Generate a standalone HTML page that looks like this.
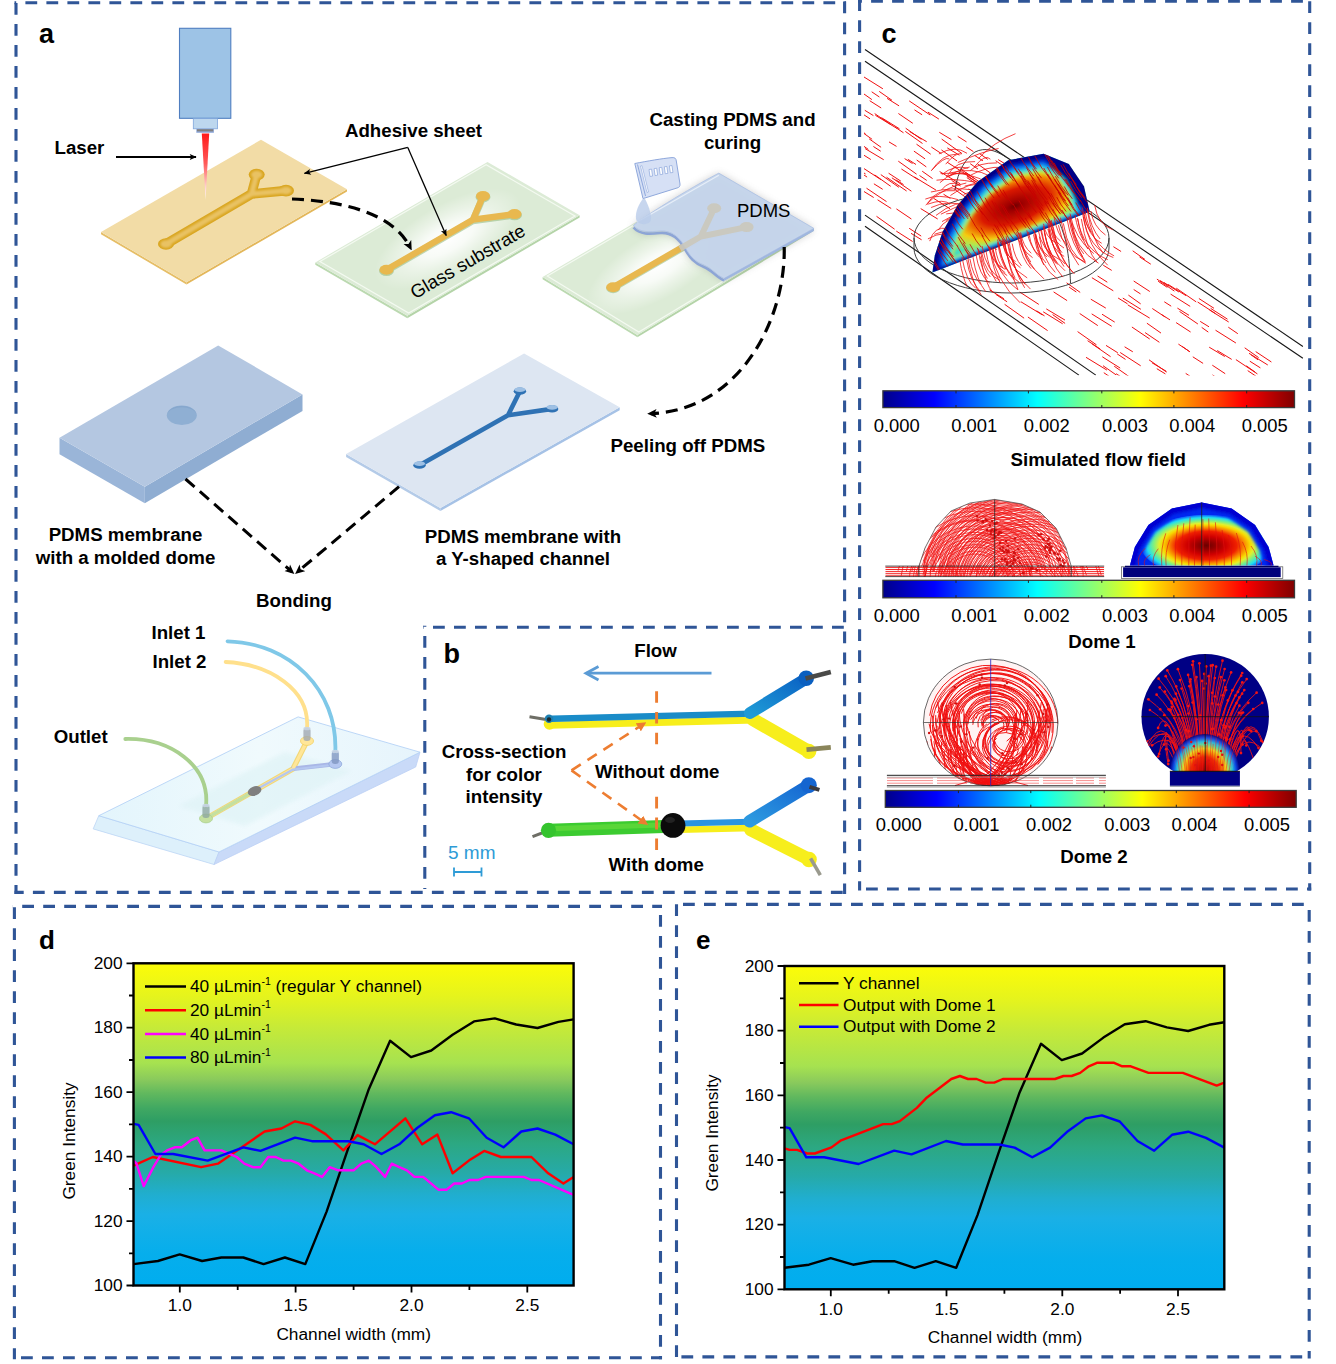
<!DOCTYPE html>
<html lang="en"><head><meta charset="utf-8"><title>Figure</title>
<style>
html,body{margin:0;padding:0;background:#fff;}
body{width:1336px;height:1364px;overflow:hidden;}
svg{display:block;font-family:"Liberation Sans",Arial,sans-serif;}
.b{font-weight:bold;}
</style></head><body>
<svg width="1336" height="1364" viewBox="0 0 1336 1364">
<rect width="1336" height="1364" fill="#fff"/>
<path d="M14.5,2.8H846" stroke="#2F5597" stroke-width="3.1" stroke-dasharray="11.8 9.2" stroke-dashoffset="10.10" fill="none"/>
<path d="M16,1.3V894" stroke="#2F5597" stroke-width="3.1" stroke-dasharray="11.8 9.2" stroke-dashoffset="19.30" fill="none"/>
<path d="M844.6,1.3V894" stroke="#2F5597" stroke-width="3.1" stroke-dasharray="11.8 9.2" stroke-dashoffset="20.80" fill="none"/>
<path d="M14.5,892.4H846" stroke="#2F5597" stroke-width="3.1" stroke-dasharray="11.8 9.2" stroke-dashoffset="2.60" fill="none"/>
<path d="M423.3,627.2H846" stroke="#2F5597" stroke-width="3.1" stroke-dasharray="11.8 9.2" stroke-dashoffset="11.30" fill="none"/>
<path d="M424.8,625.7V889" stroke="#2F5597" stroke-width="3.1" stroke-dasharray="11.8 9.2" stroke-dashoffset="10.70" fill="none"/>
<path d="M858,1.3H1311.2" stroke="#2F5597" stroke-width="3.1" stroke-dasharray="11.8 9.2" stroke-dashoffset="7.90" fill="none"/>
<path d="M859.6,0V890.5" stroke="#2F5597" stroke-width="3.1" stroke-dasharray="11.8 9.2" stroke-dashoffset="0.80" fill="none"/>
<path d="M1309.7,0V890.5" stroke="#2F5597" stroke-width="3.1" stroke-dasharray="11.8 9.2" stroke-dashoffset="19.70" fill="none"/>
<path d="M858,889H1311.2" stroke="#2F5597" stroke-width="3.1" stroke-dasharray="11.8 9.2" stroke-dashoffset="13.00" fill="none"/>
<path d="M12.9,906.4H662" stroke="#2F5597" stroke-width="3.1" stroke-dasharray="11.8 9.2" stroke-dashoffset="11.70" fill="none"/>
<path d="M14.4,905V1359.3" stroke="#2F5597" stroke-width="3.1" stroke-dasharray="11.8 9.2" stroke-dashoffset="18.70" fill="none"/>
<path d="M660.5,905V1359.3" stroke="#2F5597" stroke-width="3.1" stroke-dasharray="11.8 9.2" stroke-dashoffset="11.00" fill="none"/>
<path d="M12.9,1357.8H662" stroke="#2F5597" stroke-width="3.1" stroke-dasharray="11.8 9.2" stroke-dashoffset="12.90" fill="none"/>
<path d="M675,904.4H1310.8" stroke="#2F5597" stroke-width="3.1" stroke-dasharray="11.8 9.2" stroke-dashoffset="13.00" fill="none"/>
<path d="M676.5,903V1358.4" stroke="#2F5597" stroke-width="3.1" stroke-dasharray="11.8 9.2" stroke-dashoffset="19.80" fill="none"/>
<path d="M1309.2,903V1358.4" stroke="#2F5597" stroke-width="3.1" stroke-dasharray="11.8 9.2" stroke-dashoffset="14.00" fill="none"/>
<path d="M675,1356.9H1310.8" stroke="#2F5597" stroke-width="3.1" stroke-dasharray="11.8 9.2" stroke-dashoffset="14.60" fill="none"/>
<defs>
<marker id="ah" viewBox="0 0 10 10" refX="9" refY="5" markerUnits="userSpaceOnUse" markerWidth="7.5" markerHeight="7" orient="auto-start-reverse"><path d="M0,0.8 L10,5 L0,9.2 L2.2,5 Z" fill="#000"/></marker>
<marker id="ahb" viewBox="0 0 10 10" refX="6" refY="5" markerUnits="userSpaceOnUse" markerWidth="9.5" markerHeight="9.5" orient="auto-start-reverse"><path d="M0,0.5 L10,5 L0,9.5 L2.5,5 Z" fill="#000"/></marker>
<linearGradient id="beam" x1="0" y1="0" x2="0" y2="1"><stop offset="0" stop-color="#FF1A1A"/><stop offset="0.45" stop-color="#FF5A5A"/><stop offset="0.8" stop-color="#FFD0D0"/><stop offset="1" stop-color="#FFFFFF"/></linearGradient>
<radialGradient id="glow" cx="0.5" cy="0.5" r="0.5"><stop offset="0" stop-color="#fff" stop-opacity="1"/><stop offset="0.35" stop-color="#fff" stop-opacity="0.8"/><stop offset="0.65" stop-color="#fff" stop-opacity="0.4"/><stop offset="1" stop-color="#fff" stop-opacity="0"/></radialGradient>
<filter id="blur2"><feGaussianBlur stdDeviation="2"/></filter>
<filter id="blur4"><feGaussianBlur stdDeviation="4"/></filter>
<filter id="blur15" x="-20%" y="-20%" width="140%" height="140%"><feGaussianBlur stdDeviation="1.6"/></filter>
<filter id="blur1"><feGaussianBlur stdDeviation="0.9"/></filter>
</defs>
<text class="b" x="39" y="42.5" font-size="27">a</text>
<rect x="179.5" y="28.3" width="51.3" height="90" fill="#9DC3E6" stroke="#4F7EC0" stroke-width="1.1"/>
<rect x="193.3" y="118.6" width="24.2" height="10.2" fill="#BDD7EE" stroke="#7FA6DC" stroke-width="0.8"/>
<rect x="196.3" y="128.8" width="17.6" height="4" fill="#8FAADC"/>
<rect x="197" y="129.2" width="16.2" height="2.2" fill="#7F7F7F"/>
<polygon points="101.0,232.0 186.5,282.3 186.5,284.5 101.0,234.2" fill="#E6BE66" />
<polygon points="186.5,282.3 347.0,189.3 347.0,191.5 186.5,284.5" fill="#E3B75A" />
<polygon points="101.0,232.0 261.0,139.8 347.0,189.3 186.5,282.3" fill="#F2DCA6" />
<g ><path d="M166.0,244.0L251.5,194.0L256.7,174.6M251.5,194.0L286.0,190.6" fill="none" stroke="#D9A51E" stroke-width="9.6" stroke-linecap="round" stroke-linejoin="round"/>
<ellipse cx="166.0" cy="244.0" rx="8" ry="5.8" fill="#D9A51E"/>
<ellipse cx="256.7" cy="174.6" rx="8" ry="5.8" fill="#D9A51E"/>
<ellipse cx="286.0" cy="190.6" rx="8" ry="5.8" fill="#D9A51E"/>
</g>
<g filter="url(#blur1)"><path d="M166.0,244.0L251.5,194.0L256.7,174.6M251.5,194.0L286.0,190.6" fill="none" stroke="#E9C264" stroke-width="5.2" stroke-linecap="round" stroke-linejoin="round"/>
<ellipse cx="166.0" cy="244.0" rx="5.6" ry="3.8" fill="#E9C264"/>
<ellipse cx="256.7" cy="174.6" rx="5.6" ry="3.8" fill="#E9C264"/>
<ellipse cx="286.0" cy="190.6" rx="5.6" ry="3.8" fill="#E9C264"/>
</g>
<polygon points="201.8,133.6 209.2,133.6 205.6,200" fill="url(#beam)"/>
<text class="b" x="54.5" y="154.3" font-size="18.7">Laser</text>
<path d="M116,157H196" stroke="#000" stroke-width="1.9" marker-end="url(#ah)"/>
<text class="b" x="413.5" y="136.5" font-size="18.7" text-anchor="middle">Adhesive sheet</text>
<polygon points="315.3,262.4 407.3,315.8 407.3,318.2 315.3,264.8" fill="#BBD9B0" />
<polygon points="407.3,315.8 579.6,215.2 579.6,217.6 407.3,318.2" fill="#B4D4A8" />
<polygon points="315.3,262.4 487.5,162.0 579.6,215.2 407.3,315.8" fill="#DCEBD6" />
<polygon points="319.9,261.6 486.1,164.7 575.0,216.0 408.7,313.1" fill="none" stroke="#F4FAF1" stroke-width="1.2"/>
<ellipse cx="447.45000000000005" cy="238.9" rx="82" ry="34" fill="url(#glow)" transform="rotate(-30 447.45000000000005 238.9)"/>
<g opacity="0.55"><path d="M386.5,270.8L472.9,220.7L483.0,197.1M472.9,220.7L514.5,215.1" fill="none" stroke="#8FB878" stroke-width="7" stroke-linecap="round" stroke-linejoin="round"/>
<ellipse cx="386.5" cy="270.8" rx="7.5" ry="5.2" fill="#8FB878"/>
<ellipse cx="483.0" cy="197.1" rx="7.5" ry="5.2" fill="#8FB878"/>
<ellipse cx="514.5" cy="215.1" rx="7.5" ry="5.2" fill="#8FB878"/>
</g>
<g ><path d="M386.5,269.8L472.9,219.7L483.0,196.1M472.9,219.7L514.5,214.1" fill="none" stroke="#E8B84F" stroke-width="6.3" stroke-linecap="round" stroke-linejoin="round"/>
<ellipse cx="386.5" cy="269.8" rx="7" ry="5" fill="#E8B84F"/>
<ellipse cx="483.0" cy="196.1" rx="7" ry="5" fill="#E8B84F"/>
<ellipse cx="514.5" cy="214.1" rx="7" ry="5" fill="#E8B84F"/>
</g>
<text transform="translate(415,299.4) rotate(-30.1)" font-size="18.6">Glass substrate</text>
<path d="M407.8,147.4L304.5,173.4" stroke="#000" stroke-width="1.3" marker-end="url(#ah)"/>
<path d="M407.8,147.4L446.2,235.6" stroke="#000" stroke-width="1.3" marker-end="url(#ah)"/>
<path d="M292,199 C340,201 392,212 410,247" fill="none" stroke="#000" stroke-width="3.2" stroke-dasharray="12 7" marker-end="url(#ahb)"/>
<polygon points="542.6,276.9 637.4,334.9 637.4,337.3 542.6,279.3" fill="#BBD9B0" />
<polygon points="637.4,334.9 813.9,228.4 813.9,230.8 637.4,337.3" fill="#B4D4A8" />
<polygon points="542.6,276.9 718.8,173.2 813.9,228.4 637.4,334.9" fill="#DCEBD6" />
<polygon points="547.3,276.1 717.4,176.0 809.2,229.3 638.8,332.1" fill="none" stroke="#F4FAF1" stroke-width="1.2"/>
<ellipse cx="658.25" cy="266.04999999999995" rx="80" ry="32" fill="url(#glow)" transform="rotate(-30 658.25 266.04999999999995)"/>
<g opacity="0.55"><path d="M613.2,288.2L700.8,237.5L714.2,209.2M700.8,237.5L746.6,228.1" fill="none" stroke="#8FB878" stroke-width="6.6" stroke-linecap="round" stroke-linejoin="round"/>
<ellipse cx="613.2" cy="288.2" rx="7" ry="5" fill="#8FB878"/>
<ellipse cx="714.2" cy="209.2" rx="7" ry="5" fill="#8FB878"/>
<ellipse cx="746.6" cy="228.1" rx="7" ry="5" fill="#8FB878"/>
</g>
<g ><path d="M613.2,287.2L700.8,236.5L714.2,208.2M700.8,236.5L746.6,227.1" fill="none" stroke="#E8B84F" stroke-width="6.3" stroke-linecap="round" stroke-linejoin="round"/>
<ellipse cx="613.2" cy="287.2" rx="7" ry="5" fill="#E8B84F"/>
<ellipse cx="714.2" cy="208.2" rx="7" ry="5" fill="#E8B84F"/>
<ellipse cx="746.6" cy="227.1" rx="7" ry="5" fill="#E8B84F"/>
</g>
<path d="M633.5,225.5 C640,219 690,188 718.8,173.2 L813.9,228.4 L724,278.5 C716,275 712,268 704,265 C694,261 690,256 685,247 C680,238 672,230 660,231 C650,232 640,233 633.5,225.5 Z" fill="#707070" opacity="0.42" filter="url(#blur4)" transform="translate(0,1)"/>
<path d="M633.5,225.5 C640,233 650,232 660,231 C672,230 680,238 685,247 C690,256 694,261 704,265 C712,268 716,275 724,278.5" fill="none" stroke="#8DA5D6" stroke-width="2.6" transform="translate(0,2)"/>
<path d="M633.5,225.5 C640,219 690,188 718.8,173.2 L813.9,228.4 L724,278.5 C716,275 712,268 704,265 C694,261 690,256 685,247 C680,238 672,230 660,231 C650,232 640,233 633.5,225.5 Z" fill="#C6D5EC" fill-opacity="0.96" stroke="#AFC3E6" stroke-width="0.9"/>
<g opacity="0.9"><path d="M680,248.6L700.8,236.5L714.2,208.2M700.8,236.5L746.6,227.1" fill="none" stroke="#CBC8BC" stroke-width="6" stroke-linecap="butt" stroke-linejoin="round"/><ellipse cx="714.2" cy="208.2" rx="7" ry="5" fill="#CBC8BC"/><ellipse cx="746.6" cy="227.1" rx="7" ry="5" fill="#CBC8BC"/></g>
<path d="M637,222 L718.8,175.2" stroke="#E6EEF8" stroke-width="1.2" fill="none"/>
<path d="M813.9,228.4 L724,278.5 L724,281 L813.9,231 Z" fill="#9FB6E0"/>
<path d="M634.8,163.5 C648,161 662,158.5 672,157.6 C675,157.4 676,158.5 676.3,161 L680,184 C680.2,186.5 679,187.6 677,188 L643,198.6 Z" fill="#D6E0F5" stroke="#8FA8DC" stroke-width="1"/>
<path d="M637.5,164.5 L645.5,196" stroke="#8FA8DC" stroke-width="1" fill="none"/>
<path d="M640.5,166 L647,192.5 L648.5,192 L642,165.7Z" fill="#fff" stroke="#8FA8DC" stroke-width="0.6"/>
<rect x="649.0" y="169.5" width="2.6" height="7" fill="#fff" stroke="#8FA8DC" stroke-width="0.7" transform="rotate(-8 649.0 169.5)"/>
<rect x="654.1" y="168.6" width="2.6" height="7" fill="#fff" stroke="#8FA8DC" stroke-width="0.7" transform="rotate(-8 654.1 168.6)"/>
<rect x="659.2" y="167.7" width="2.6" height="7" fill="#fff" stroke="#8FA8DC" stroke-width="0.7" transform="rotate(-8 659.2 167.7)"/>
<rect x="664.3" y="166.8" width="2.6" height="7" fill="#fff" stroke="#8FA8DC" stroke-width="0.7" transform="rotate(-8 664.3 166.8)"/>
<rect x="669.4" y="165.9" width="2.6" height="7" fill="#fff" stroke="#8FA8DC" stroke-width="0.7" transform="rotate(-8 669.4 165.9)"/>
<path d="M643,198.6 C639,204 635,212 636,219 C637,224 645,226 650,222 C653,218 649,206 645,199 Z" fill="#B9CCEA" opacity="0.8"/>
<text x="737" y="216.5" font-size="18.5">PDMS</text>
<text class="b" x="732.5" y="126.2" font-size="18.7" text-anchor="middle">Casting PDMS and</text>
<text class="b" x="732.5" y="149" font-size="18.7" text-anchor="middle">curing</text>
<path d="M784.2,247 C786,316 742,410 651,413.6" fill="none" stroke="#000" stroke-width="3.2" stroke-dasharray="12 7" marker-end="url(#ahb)"/>
<text class="b" x="610.5" y="451.8" font-size="18.7">Peeling off PDMS</text>
<polygon points="59.5,437.8 144.8,486.7 144.8,503.2 59.5,454.3" fill="#9AB5D8" />
<polygon points="144.8,486.7 302.5,394.4 302.5,410.9 144.8,503.2" fill="#8FADD2" />
<polygon points="59.5,437.8 218.2,345.4 302.5,394.4 144.8,486.7" fill="#B4C7E1" />
<ellipse cx="181.8" cy="415.3" rx="15" ry="9.7" fill="#8FAFD3"/>
<path d="M167,414 A15,9.7 0 0 1 196.6,414 A15,8 0 0 0 167,414Z" fill="#7FA0C8" opacity="0.6"/>
<polygon points="346.1,453.9 440.4,508.0 440.4,511.0 346.1,456.9" fill="#B4CBE8" />
<polygon points="440.4,508.0 619.7,407.2 619.7,410.2 440.4,511.0" fill="#A6C2E6" />
<polygon points="346.1,453.9 524.1,353.5 619.7,407.2 440.4,508.0" fill="#DDE6F2" />
<g ><path d="M419.5,465.2L508.0,415.3L519.9,391.2M508.0,415.3L552.1,408.9" fill="none" stroke="#2F72B4" stroke-width="4.6" stroke-linecap="round" stroke-linejoin="round"/>
<ellipse cx="419.5" cy="465.2" rx="6.2" ry="3.6" fill="#2F72B4"/>
<ellipse cx="519.9" cy="391.2" rx="6.2" ry="3.6" fill="#2F72B4"/>
<ellipse cx="552.1" cy="408.9" rx="6.2" ry="3.6" fill="#2F72B4"/>
</g>
<ellipse cx="419.5" cy="463.59999999999997" rx="5.6" ry="2.4" fill="#9EC0E4"/>
<ellipse cx="519.9" cy="389.59999999999997" rx="5.6" ry="2.4" fill="#9EC0E4"/>
<ellipse cx="552.1" cy="407.29999999999995" rx="5.6" ry="2.4" fill="#9EC0E4"/>
<text class="b" x="125.5" y="541" font-size="18.7" text-anchor="middle">PDMS membrane</text>
<text class="b" x="125.5" y="563.5" font-size="18.7" text-anchor="middle">with a molded dome</text>
<text class="b" x="523" y="542.5" font-size="18.7" text-anchor="middle">PDMS membrane with</text>
<text class="b" x="523" y="565" font-size="18.7" text-anchor="middle">a Y-shaped channel</text>
<text class="b" x="294" y="607" font-size="18.7" text-anchor="middle">Bonding</text>
<path d="M185.5,479 L291.5,571.5" fill="none" stroke="#000" stroke-width="3" stroke-dasharray="12 7" marker-end="url(#ahb)"/>
<path d="M399,486.7 L298,571.5" fill="none" stroke="#000" stroke-width="3" stroke-dasharray="12 7" marker-end="url(#ahb)"/>
<defs><linearGradient id="chipTop" x1="0" y1="0" x2="1" y2="0"><stop offset="0" stop-color="#E3F5FC"/><stop offset="0.5" stop-color="#F0FAFD"/><stop offset="1" stop-color="#E6F4FC"/></linearGradient></defs>
<polygon points="98.8,815.7 219.0,852.0 214.1,864.5 93.2,828.9" fill="#DDF0FB" stroke="#BCD6F5" stroke-width="0.8"/>
<polygon points="219.0,852.0 420.0,752.2 415.7,767.0 214.1,864.5" fill="#C9DAF8" stroke="#BCD0F5" stroke-width="0.8"/>
<polygon points="98.8,815.7 298.1,716.9 420.0,752.2 219.0,852.0" fill="url(#chipTop)" stroke="#B6D3F6" stroke-width="0.9"/>
<polygon points="178.0,806.0 285.0,752.0 352.0,771.0 245.0,826.0" fill="#DFF3F6" opacity="0.7" filter="url(#blur2)"/>
<path d="M206,818.5 L293,768.8 L307,741" fill="none" stroke="#F2D777" stroke-width="5.4" stroke-linecap="round" stroke-linejoin="round"/>
<path d="M293,768.8 L335.3,764" fill="none" stroke="#A9B7E6" stroke-width="4.4" stroke-linecap="round"/>
<path d="M206,818.5 L293,768.8 L307,741" fill="none" stroke="#FFE699" stroke-width="3.2" stroke-linecap="round" stroke-linejoin="round"/>
<path d="M206,818.5 L250,793.5" fill="none" stroke="#C5E0A0" stroke-width="3.6" stroke-linecap="round"/>
<path d="M259,788 L293,769.5 L335.3,764.5" fill="none" stroke="#B4C7F0" stroke-width="2.2" stroke-linejoin="round"/>
<ellipse cx="206" cy="818.5" rx="6.5" ry="4.4" fill="#C5E0A0" stroke="#A9D18E" stroke-width="0.8"/>
<ellipse cx="307" cy="741" rx="6.5" ry="4.4" fill="#FFE699" stroke="#F2D060" stroke-width="0.8"/>
<ellipse cx="335.3" cy="764" rx="6.5" ry="4.4" fill="#B4C7F0" stroke="#8FAADC" stroke-width="0.8"/>
<ellipse cx="254.6" cy="791" rx="7" ry="4.6" fill="#7F7F7F" transform="rotate(-20 254.6 791)"/>
<path d="M227.5,641.3 C290,643 338,690 335.3,752" fill="none" stroke="#7FC8E8" stroke-width="3.8" stroke-linecap="round"/>
<path d="M225.6,662 C270,664 310,690 307,728" fill="none" stroke="#FFE08C" stroke-width="3.8" stroke-linecap="round"/>
<path d="M125.3,739 C170,738 210,765 206,806" fill="none" stroke="#A9D08E" stroke-width="3.8" stroke-linecap="round"/>
<rect x="202.4" y="805" width="7.2" height="13" rx="3" fill="#8FA8A0" opacity="0.8"/>
<ellipse cx="206" cy="805.5" rx="3.6" ry="1.8" fill="#C8D4E4" opacity="0.9"/>
<rect x="303.4" y="728" width="7.2" height="13" rx="3" fill="#A0A8B0" opacity="0.8"/>
<ellipse cx="307" cy="728.5" rx="3.6" ry="1.8" fill="#C8D4E4" opacity="0.9"/>
<rect x="331.7" y="751" width="7.2" height="13" rx="3" fill="#7F96C0" opacity="0.8"/>
<ellipse cx="335.3" cy="751.5" rx="3.6" ry="1.8" fill="#C8D4E4" opacity="0.9"/>
<text class="b" x="151.5" y="639" font-size="18.7">Inlet 1</text>
<text class="b" x="152.5" y="667.7" font-size="18.7">Inlet 2</text>
<text class="b" x="53.7" y="742.5" font-size="18.7">Outlet</text>
<defs>
<marker id="aho" viewBox="0 0 10 10" refX="4" refY="5" markerUnits="userSpaceOnUse" markerWidth="9.5" markerHeight="9.5" orient="auto"><path d="M0,0 L10,5 L0,10 Z" fill="#ED7D31"/></marker>
<linearGradient id="bl1" x1="0" y1="1" x2="1" y2="0"><stop offset="0" stop-color="#1E9AD6"/><stop offset="1" stop-color="#0B63C4"/></linearGradient>
<linearGradient id="bl2" x1="0" y1="1" x2="1" y2="0"><stop offset="0" stop-color="#2D9AE0"/><stop offset="1" stop-color="#1668D2"/></linearGradient>
</defs>
<text class="b" x="443.5" y="663" font-size="27">b</text>
<path d="M529.5,716.8L549,720" stroke="#6E6E66" stroke-width="3" stroke-linecap="butt"/>
<path d="M532.5,836.6L548.5,830.5" stroke="#6E6E66" stroke-width="3" stroke-linecap="butt"/>
<path d="M549.5,725.2 L756,720" stroke="#F7EE1C" stroke-width="7" stroke-linecap="round"/>
<path d="M753,719.5 L808,751" stroke="#F7EE1C" stroke-width="13.2" stroke-linecap="round"/>
<circle cx="549.5" cy="724" r="5.8" fill="#F7EE1C"/>
<circle cx="808.8" cy="751.3" r="7.6" fill="#F7EE1C"/>
<path d="M552,718.8 L752,713.6" stroke="#1A8CC8" stroke-width="6.4" stroke-linecap="round"/>
<path d="M750,713 L805.5,679" stroke="url(#bl1)" stroke-width="12" stroke-linecap="round"/>
<circle cx="806.2" cy="678.3" r="7.8" fill="#0A5FC0"/>
<circle cx="549" cy="718.8" r="4.2" fill="#1E7FB0"/>
<circle cx="549" cy="719.5" r="2.2" fill="#1A2A30"/>
<path d="M805.5,678.4L830.8,672" stroke="#4A4A48" stroke-width="4.6" stroke-linecap="butt"/>
<path d="M806.5,749.6L830.8,747.4" stroke="#8A855A" stroke-width="4.6" stroke-linecap="butt"/>
<path d="M548.5,830.3 L664,826.6" stroke="#3CCB30" stroke-width="13" stroke-linecap="round"/>
<path d="M556,828.5 L660,825" stroke="#66DC3C" stroke-width="5" stroke-linecap="round" opacity="0.7"/>
<circle cx="548.5" cy="830.3" r="7.6" fill="#35C42E"/>
<path d="M680,829.8 L753,828" stroke="#F7EE1C" stroke-width="6.6" stroke-linecap="round"/>
<path d="M750.5,829.6 L808.5,859" stroke="#F7EE1C" stroke-width="13" stroke-linecap="round"/>
<circle cx="809" cy="859.5" r="7.8" fill="#F7EE1C"/>
<path d="M680,823.6 L750,821.8" stroke="#2A94E0" stroke-width="6" stroke-linecap="round"/>
<path d="M749.5,821.3 L808,785.8" stroke="url(#bl2)" stroke-width="12.5" stroke-linecap="round"/>
<circle cx="808.8" cy="785.2" r="8" fill="#1565D0"/>
<path d="M809.5,786.8L819.4,789.8" stroke="#3A3A40" stroke-width="4" stroke-linecap="butt"/>
<path d="M810.6,858.4L820.3,875.2" stroke="#9A9A8E" stroke-width="3.6" stroke-linecap="butt"/>
<circle cx="673" cy="825.4" r="12.4" fill="#0B0B0B"/>
<ellipse cx="670" cy="820" rx="5" ry="3" fill="#222"/>
<text class="b" x="655.5" y="657.3" font-size="18.7" text-anchor="middle">Flow</text>
<path d="M711.5,673.2H586.5" stroke="#5B9BD5" stroke-width="2.8" fill="none"/>
<path d="M598.5,666.4L586,673.2L598.5,680" stroke="#5B9BD5" stroke-width="2.8" fill="none" stroke-linejoin="miter"/>
<path d="M656.6,691.2V745" stroke="#ED7D31" stroke-width="2.9" stroke-dasharray="11.5 9.3"/>
<path d="M656.6,796.8V850" stroke="#ED7D31" stroke-width="2.9" stroke-dasharray="11.8 9"/>
<path d="M571.5,770.4L641.5,725.3" stroke="#ED7D31" stroke-width="2.6" stroke-dasharray="11 8" marker-end="url(#aho)" fill="none"/>
<path d="M571.5,770.4L643.5,821.8" stroke="#ED7D31" stroke-width="2.6" stroke-dasharray="11 8" marker-end="url(#aho)" fill="none"/>
<text class="b" x="504" y="757.5" font-size="18.7" text-anchor="middle">Cross-section</text>
<text class="b" x="504" y="780.8" font-size="18.7" text-anchor="middle">for color</text>
<text class="b" x="504" y="803" font-size="18.7" text-anchor="middle">intensity</text>
<text class="b" x="657.2" y="778.2" font-size="18.7" text-anchor="middle">Without dome</text>
<text class="b" x="656.2" y="871" font-size="18.7" text-anchor="middle">With dome</text>
<text x="448" y="859" font-size="19" fill="#2E9BD6">5 mm</text>
<path d="M454,872H481.5M454,867.5V876.5M481.5,867.5V876.5" stroke="#2E9BD6" stroke-width="1.8" fill="none"/>
<defs>
<linearGradient id="jet" x1="0" y1="0" x2="1" y2="0">
<stop offset="0" stop-color="#00008A"/><stop offset="0.11" stop-color="#0000F0"/><stop offset="0.125" stop-color="#0000FF"/>
<stop offset="0.25" stop-color="#0080FF"/><stop offset="0.375" stop-color="#00FFFF"/><stop offset="0.5" stop-color="#80FF80"/>
<stop offset="0.625" stop-color="#FFFF00"/><stop offset="0.75" stop-color="#FF8000"/><stop offset="0.875" stop-color="#FF0000"/>
<stop offset="1" stop-color="#800000"/></linearGradient>
<radialGradient id="hot3d" gradientUnits="userSpaceOnUse" cx="0" cy="0" r="1" gradientTransform="translate(1014.9,206) rotate(-21) scale(88,40)">
<stop offset="0" stop-color="#700000"/><stop offset="0.10" stop-color="#A00000"/><stop offset="0.40" stop-color="#DA1800"/>
<stop offset="0.54" stop-color="#EE6A00"/><stop offset="0.68" stop-color="#F4CC10"/><stop offset="0.80" stop-color="#B0E850"/>
<stop offset="0.92" stop-color="#50E0B0"/><stop offset="1" stop-color="#30D8D8"/></radialGradient>
<radialGradient id="hotd1" gradientUnits="userSpaceOnUse" cx="0" cy="0" r="1" gradientTransform="translate(1206.5,545.5) scale(66,31)">
<stop offset="0" stop-color="#6C0000"/><stop offset="0.12" stop-color="#900000"/><stop offset="0.30" stop-color="#D00000"/>
<stop offset="0.46" stop-color="#F02000"/><stop offset="0.56" stop-color="#F88000"/><stop offset="0.66" stop-color="#F8D800"/>
<stop offset="0.72" stop-color="#E0F030"/><stop offset="0.80" stop-color="#80F080"/><stop offset="0.90" stop-color="#20E0F0"/>
<stop offset="0.98" stop-color="#1070FF"/><stop offset="1.06" stop-color="#0028F0"/></radialGradient>
<radialGradient id="hotd2" gradientUnits="userSpaceOnUse" cx="0" cy="0" r="1" gradientTransform="translate(1204.7,772) scale(35,38)">
<stop offset="0" stop-color="#A00000"/><stop offset="0.22" stop-color="#D81000"/><stop offset="0.40" stop-color="#F03000"/>
<stop offset="0.52" stop-color="#F8A000"/><stop offset="0.62" stop-color="#F0F020"/><stop offset="0.72" stop-color="#60F0A0"/>
<stop offset="0.80" stop-color="#20D0F0"/><stop offset="0.90" stop-color="#1050F0"/><stop offset="1" stop-color="#000080"/></radialGradient>
</defs>
<text class="b" x="881.5" y="43" font-size="27">c</text>
<clipPath id="c3d"><rect x="864" y="45" width="439.5" height="330.5"/></clipPath>
<g clip-path="url(#c3d)">
<path d="M865,49.4L1302.9,346.5M865,61.2L1302.9,358.3M865,215.1L1095.8,375.1M865,226.3L1078.9,375.1" stroke="#1A1A1A" stroke-width="1.15" fill="none"/>
<path d="M1164.0,282.5l14.9,9.5 M873.4,146.5l7.3,4.7 M879.2,91.4l12.8,8.9 M905.7,128.2l15.7,11.2 M1127.8,304.9l21.9,13.2 M1265.6,383.6l9.0,5.5 M933.6,198.3l16.4,10.5 M1113.4,246.7l7.7,4.8 M1178.4,344.1l11.4,7.6 M1234.2,422.1l10.3,6.9 M1102.3,356.8l17.9,11.3 M1325.3,399.0l12.8,8.8 M919.5,175.5l7.2,4.9 M1219.6,393.6l20.1,12.7 M1185.7,373.4l15.5,10.0 M1256.6,473.6l13.7,9.2 M874.7,174.9l16.0,11.4 M1247.7,370.6l12.4,8.4 M856.1,128.1l9.4,5.7 M873.9,183.8l8.8,5.5 M1036.6,310.8l7.9,5.1 M1114.2,366.2l18.6,13.0 M1020.8,301.7l21.5,13.2 M931.3,147.0l10.2,6.7 M1133.7,289.5l6.8,4.4 M1312.0,474.4l14.4,9.6 M1176.3,288.2l19.9,13.7 M1273.5,463.7l12.7,8.1 M895.7,179.8l7.8,4.7 M947.3,147.9l12.1,7.3 M845.1,76.8l8.3,5.3 M857.5,187.5l16.2,10.0 M968.6,188.9l12.4,7.6 M1261.0,483.7l13.7,9.0 M887.1,98.4l12.0,7.5 M1251.1,354.9l6.9,4.9 M1103.8,372.7l19.5,13.2 M1106.0,345.4l11.8,7.4 M1242.6,469.8l19.2,13.3 M1246.0,436.2l10.1,6.6 M1019.2,177.8l7.2,4.5 M1313.7,439.7l20.2,14.4 M1313.0,427.0l10.2,6.3 M941.4,149.9l15.7,11.1 M1256.8,405.4l16.3,11.2 M886.5,177.2l20.1,13.8 M1212.6,374.9l9.2,6.4 M1321.1,437.2l12.4,8.8 M1200.2,321.4l8.8,5.4 M1288.4,475.2l8.7,6.1 M1325.3,478.7l11.9,7.9 M909.2,100.9l21.1,14.2 M1103.0,365.7l13.0,9.1 M1249.8,361.2l10.6,6.7 M909.2,228.3l12.0,7.8 M1130.8,380.7l12.7,9.0 M1090.8,299.2l15.0,8.9 M846.9,169.6l9.3,6.1 M1200.3,377.9l11.6,7.6 M1117.2,353.9l8.3,5.5 M966.8,177.6l18.3,12.0 M1120.2,352.5l20.5,13.3 M1145.1,332.6l14.3,9.7 M1066.6,282.8l13.6,9.6 M1187.6,415.9l21.2,13.2 M1119.2,378.3l19.7,12.1 M904.6,158.6l7.9,4.9 M880.8,174.6l18.1,12.7 M920.7,208.6l17.0,10.4 M1277.6,491.5l9.7,6.9 M1330.0,507.8l9.2,5.9 M1097.6,276.0l9.7,6.2 M1198.9,298.5l15.1,9.8 M853.9,108.2l16.1,10.6 M876.5,216.3l18.1,12.9 M896.3,127.9l7.2,4.9 M977.5,163.9l12.8,9.0 M1246.3,365.8l8.7,6.2 M1124.6,346.8l8.2,5.0 M1182.2,346.4l7.6,5.4 M1155.9,383.1l7.8,5.4 M877.6,199.8l13.6,8.7 M1116.0,373.7l10.9,6.7 M1103.2,265.2l8.5,5.2 M869.7,100.7l11.5,7.3 M1217.2,350.5l14.5,8.9 M1015.0,173.4l10.7,6.4 M1204.2,379.8l9.6,6.2 M1303.0,382.0l19.1,12.4 M1087.6,340.7l12.6,8.3 M1182.0,427.5l11.6,8.1 M1191.3,383.3l12.9,8.2 M871.7,91.8l7.7,5.2 M970.2,163.7l7.8,5.4 M1271.6,443.6l11.1,6.9 M922.2,171.2l10.4,7.4 M1321.6,459.8l10.1,7.2 M845.5,109.6l13.8,9.1 M943.5,194.2l6.9,4.3 M889.0,141.9l7.5,4.5 M1131.9,327.0l17.8,12.0 M1195.8,422.0l12.7,8.0 M1327.5,405.1l17.5,11.7 M866.5,188.2l20.0,13.4 M1204.6,418.2l8.8,5.8 M1092.1,343.9l18.5,12.8 M1131.2,379.3l16.8,11.4 M957.7,136.3l8.8,5.6 M896.4,208.9l15.0,10.1 M1151.9,362.7l14.4,8.6 M1235.9,430.4l14.2,9.4 M1168.1,284.4l18.0,11.3 M881.5,117.7l18.0,11.1 M1207.5,444.2l14.2,9.1 M1079.7,313.5l18.1,12.1 M1160.0,280.5l9.0,5.6 M1209.2,347.2l15.6,9.3 M874.7,113.6l16.6,11.3 M1176.1,322.6l14.5,9.4 M1282.9,382.1l20.9,14.8 M853.6,126.1l18.5,13.2 M914.5,177.0l21.5,13.1 M1246.9,402.9l19.8,13.5 M846.8,126.0l13.6,8.6 M913.9,151.1l11.2,7.8 M845.9,162.0l19.7,12.0 M1298.9,468.7l20.5,12.9 M1334.4,474.8l12.2,7.9 M979.8,153.8l8.1,5.6 M967.2,176.3l14.6,9.0 M1027.9,317.0l19.7,13.6 M1154.1,398.1l20.8,13.7 M1197.6,302.0l17.8,11.5 M1213.8,400.1l11.3,6.8 M1299.1,382.5l13.9,8.9 M1323.4,418.7l16.8,10.6 M1118.1,298.0l9.4,5.8 M1289.1,503.7l13.7,8.4 M939.3,132.3l12.1,7.3 M962.2,171.8l14.9,10.5 M1212.3,365.2l12.9,8.5 M875.4,115.3l21.7,13.2 M1091.7,313.9l20.0,12.4 M977.8,181.1l12.7,8.3 M1312.4,498.0l20.4,12.2 M860.8,166.5l20.2,13.2 M1132.7,250.8l12.3,8.7 M1249.5,455.6l21.6,13.5 M898.4,113.5l14.4,9.8 M1306.3,475.1l16.2,11.1 M1069.1,287.1l7.2,4.9 M1161.3,314.4l8.7,5.5 M1156.8,368.7l8.6,5.2 M1102.0,314.2l12.7,7.9 M1139.5,256.9l11.3,7.3 M1314.9,469.6l20.0,13.1 M960.0,168.7l20.9,14.2 M995.6,160.7l14.1,9.5 M1172.0,412.2l10.4,6.2 M1179.5,311.4l18.4,12.6 M1320.2,424.1l19.3,12.0 M989.5,289.8l14.4,8.9 M954.4,189.2l16.3,11.6 M916.7,160.0l9.6,6.9 M914.5,109.9l7.6,4.9 M1285.1,484.3l17.2,12.3 M1301.5,413.9l9.3,6.5 M1210.7,308.4l16.8,10.8 M927.9,112.1l11.0,7.0 M1313.2,391.6l21.6,13.4 M1019.7,292.0l19.1,12.4 M869.1,138.8l12.0,8.5 M939.6,171.5l20.7,12.4 M1046.3,308.9l18.7,11.2 M862.1,75.8l20.8,13.0 M1211.2,435.4l11.9,7.5 M1314.3,465.1l10.5,7.2 M846.8,163.4l20.3,13.7 M1307.2,372.8l10.2,6.7 M1313.8,514.5l12.7,7.9 M1299.8,391.2l18.5,12.7 M1248.2,442.5l16.0,10.1 M1228.3,327.2l9.5,6.5 M966.2,146.9l7.2,4.7 M1004.6,304.3l19.5,13.9 M974.8,155.5l8.1,5.3 M1192.8,356.8l10.3,6.6 M1149.0,359.8l17.6,12.3 M1170.6,294.1l19.6,12.3 M1122.8,298.1l18.1,11.2 M966.2,172.7l8.8,6.2 M1128.4,295.1l12.3,8.8 M1241.1,420.2l22.1,13.4 M1077.6,331.6l18.9,13.3 M864.8,110.3l8.6,5.3 M1321.8,465.3l20.8,13.3 M1269.4,409.6l10.4,7.2 M1308.4,385.7l15.6,10.4 M951.6,180.4l9.0,5.6 M1164.3,301.8l6.9,4.4 M1177.4,308.1l11.6,7.2 M1234.7,400.3l7.8,4.7 M1158.2,281.3l9.1,6.1 M995.7,294.3l11.4,7.5 M1268.5,489.4l12.4,7.7 M1201.7,327.4l6.6,4.7 M1052.6,314.6l12.5,8.8 M852.3,138.2l16.0,11.2 M888.6,173.2l12.3,8.0 M916.5,144.2l14.2,10.0 M898.3,161.2l18.3,13.0 M941.7,139.1l20.3,14.5 M1298.8,420.7l20.2,13.5 M1249.0,353.3l18.8,11.7 M1043.2,311.8l19.5,12.0 M951.9,185.0l14.6,9.3 M905.3,131.4l17.2,12.1 M865.1,148.6l18.6,11.1 M1255.7,351.6l15.7,10.4 M1152.3,308.5l13.0,8.6 M1053.6,291.9l13.5,8.7 M856.5,150.6l14.3,8.9 M1219.1,423.6l13.8,8.5 M907.9,159.3l8.1,5.2 M1156.9,279.1l17.5,12.0 M1091.9,277.7l21.4,13.1 M1265.0,486.9l17.4,12.1 M1086.0,357.3l20.9,12.8 M1231.3,454.0l7.7,4.9 M1215.5,330.2l20.4,12.8 M1244.7,347.8l13.9,9.8 M947.1,162.2l14.5,9.2 M863.0,93.3l8.9,6.3 M1178.0,412.0l9.1,6.3 M901.4,169.0l16.4,10.5 M1272.7,427.5l15.1,10.6 M896.3,231.1l16.3,10.4 M1235.9,359.6l21.5,14.3 M1209.4,309.9l19.3,12.1 M1158.2,411.2l15.4,10.4 M998.2,159.6l7.3,4.5 M1146.9,323.2l14.1,9.9 M909.7,131.6l17.0,10.1 M846.3,106.4l8.4,5.3 M1133.7,281.0l16.1,10.5 M911.0,233.3l10.6,6.5 M891.9,177.8l19.5,13.4" stroke="#F01010" stroke-width="1" fill="none"/>
<ellipse cx="1011.5" cy="238" rx="97.5" ry="45" fill="none" stroke="#2A2A2A" stroke-width="0.9"/>
<path d="M914,238 v10 A97.5,45 0 0 0 1109,248 v-10" fill="none" stroke="#2A2A2A" stroke-width="0.9"/>
<path d="M955,190 C958,170 966,158 975,152 C985,147 995,150 1006,157" fill="none" stroke="#2A2A2A" stroke-width="0.9"/>
<path d="M1014,159 C1036,178 1056,205 1066,242 C1069,258 1070,270 1070.5,283" fill="none" stroke="#2A2A2A" stroke-width="0.9"/>
<path d="M949.1,176.4Q959.0,170.7 967.4,174.5 M963.7,194.4Q983.8,184.3 1009.8,192.8 M927.6,203.2Q936.1,188.7 955.1,190.7 M925.7,205.1Q942.4,187.2 966.3,183.0 M955.4,214.2Q972.0,200.1 993.1,194.8 M927.9,238.9Q942.7,229.2 969.3,236.9 M969.7,196.5Q985.9,188.6 1008.7,186.4 M938.9,153.9Q955.3,144.8 967.0,153.3 M967.7,176.6Q987.8,165.8 1001.1,167.4 M940.9,214.2Q966.7,202.1 983.4,194.2 M940.6,173.6Q963.6,171.6 980.6,178.9 M977.8,182.9Q991.9,176.6 1002.9,185.4 M964.9,247.9Q983.3,239.8 997.0,249.5 M951.2,222.5Q964.1,209.1 984.0,209.8 M929.7,241.1Q934.2,225.4 948.2,228.7 M945.7,164.2Q955.9,152.0 961.5,153.9 M966.8,223.7Q975.1,213.7 986.6,220.8 M974.2,239.1Q989.1,230.3 994.1,240.5 M931.4,170.6Q944.5,156.2 949.2,158.8 M963.1,232.5Q975.4,222.8 997.3,218.6 M970.4,170.5Q978.0,162.7 997.0,162.9 M942.0,221.6Q961.1,210.4 969.1,211.4 M976.1,211.8Q984.4,201.0 994.2,206.5 M945.8,220.5Q965.6,210.5 976.7,205.9 M974.2,167.0Q985.4,153.3 990.4,159.2 M925.3,199.1Q937.8,193.4 958.0,199.6 M945.8,233.2Q956.0,231.1 971.4,236.5 M967.0,199.8Q972.5,190.3 988.1,197.5 M966.8,228.7Q983.1,217.5 1001.7,216.7 M978.4,158.6Q993.4,142.1 1015.5,133.7 M979.1,200.1Q990.5,195.7 1008.3,202.6 M956.9,225.4Q975.3,218.7 997.3,221.3 M934.3,234.3Q949.3,228.3 972.2,233.2 M971.4,207.9Q986.6,201.3 992.5,202.6 M936.5,180.2Q951.9,177.9 975.5,182.2 M939.9,182.7Q952.7,171.3 969.6,167.0 M983.5,222.9Q989.1,219.3 1004.3,225.9 M984.0,229.5Q999.7,217.1 1022.6,218.8 M931.4,170.6Q942.6,154.1 956.1,154.3 M966.6,200.0Q980.2,188.7 1002.5,191.0 M949.3,224.1Q972.0,210.0 992.8,211.9 M950.3,172.9Q973.3,166.8 989.8,176.0 M976.1,218.0Q991.9,206.2 1012.2,208.6 M930.9,192.0Q953.1,186.9 972.3,189.9 M950.4,195.5Q970.1,180.8 985.5,185.1 M936.0,215.4Q955.6,199.4 975.4,203.0 M927.3,204.3Q944.0,198.2 950.1,204.4 M931.1,207.5Q948.3,199.5 965.3,205.8 M974.7,202.2Q986.3,196.7 1004.8,206.2 M948.5,226.3Q957.5,225.6 969.9,229.8 M941.5,190.0Q949.3,179.8 959.1,184.8 M946.1,176.5Q963.8,169.9 970.9,175.8 M938.1,230.1Q947.1,215.5 965.0,217.4 M973.6,213.4Q986.1,201.0 1005.2,208.0 M946.2,213.9Q967.1,210.2 988.7,215.2 M957.9,162.5Q982.4,151.4 998.6,148.5 M947.6,175.4Q955.4,160.7 975.1,161.6 M941.9,174.5Q954.2,164.3 968.2,168.2 M964.6,186.2Q982.1,179.0 1010.3,189.0 M979.3,228.4Q992.0,226.8 1001.5,229.3" stroke="#F01010" stroke-width="0.8" fill="none"/>
<clipPath id="cdome"><polygon points="932.4,272.4 934.8,255.6 942.5,232 957.7,205 977.9,181.5 1008.2,160.2 1043.6,153.8 1068.8,164 1084,186.5 1089.7,211.8"/></clipPath>
<polygon points="932.4,272.4 934.8,255.6 942.5,232 957.7,205 977.9,181.5 1008.2,160.2 1043.6,153.8 1068.8,164 1084,186.5 1089.7,211.8" fill="url(#hot3d)"/>
<g clip-path="url(#cdome)"><g filter="url(#blur15)" fill="none" stroke-linejoin="round">
<path d="M932.4,272.4L934.8,255.6 942.5,232 957.7,205 977.9,181.5 1008.2,160.2 1043.6,153.8 1068.8,164 1084,186.5 1089.7,211.8" stroke="#A8E860" stroke-width="36"/><path d="M932.4,272.4L1089.7,211.8" stroke="#A8E860" stroke-width="15"/>
<path d="M932.4,272.4L934.8,255.6 942.5,232 957.7,205 977.9,181.5 1008.2,160.2 1043.6,153.8 1068.8,164 1084,186.5 1089.7,211.8" stroke="#30D8D8" stroke-width="30"/><path d="M932.4,272.4L1089.7,211.8" stroke="#30D8D8" stroke-width="11"/>
<path d="M932.4,272.4L934.8,255.6 942.5,232 957.7,205 977.9,181.5 1008.2,160.2 1043.6,153.8 1068.8,164 1084,186.5 1089.7,211.8" stroke="#1078F0" stroke-width="23"/><path d="M932.4,272.4L1089.7,211.8" stroke="#1078F0" stroke-width="7.5"/>
<path d="M932.4,272.4L934.8,255.6 942.5,232 957.7,205 977.9,181.5 1008.2,160.2 1043.6,153.8 1068.8,164 1084,186.5 1089.7,211.8" stroke="#0020C8" stroke-width="16"/><path d="M932.4,272.4L1089.7,211.8" stroke="#0020C8" stroke-width="5"/>
<path d="M932.4,272.4L934.8,255.6 942.5,232 957.7,205 977.9,181.5 1008.2,160.2 1043.6,153.8 1068.8,164 1084,186.5 1089.7,211.8" stroke="#000088" stroke-width="9.5"/><path d="M932.4,272.4L1089.7,211.8" stroke="#000088" stroke-width="3"/>
<polygon points="1043.6,153.8 1068.8,164 1084,186.5 1089.7,211.8 1078,205 1066,180 1050,166" fill="#000088"/>
</g></g>
<g clip-path="url(#cdome)"><path d="M931.7,228.2q6.0,12.2 14.9,22.5 M969.9,244.2q3.7,7.6 9.3,14.0 M966.3,195.1q4.6,9.4 11.5,17.4 M951.7,194.1q6.6,13.4 16.4,24.8 M955.0,194.2q5.8,11.8 14.4,21.7 M1043.7,167.9q7.0,14.3 17.5,26.5 M1048.9,163.4q3.9,8.1 9.9,14.9 M1031.6,180.1q6.3,13.0 15.9,23.9 M995.2,164.7q5.5,11.3 13.8,20.8 M972.1,233.5q3.7,7.6 9.2,13.9 M1003.8,229.7q5.1,10.5 12.8,19.4 M952.2,223.8q5.3,10.8 13.2,19.9 M1013.4,165.9q3.1,6.4 7.8,11.7 M1054.5,184.9q5.6,11.4 13.9,21.0 M1029.8,160.4q4.7,9.7 11.8,17.8 M995.2,164.6q3.4,7.0 8.5,12.9 M1027.7,180.5q3.2,6.6 8.0,12.1 M1018.2,168.6q7.2,14.7 17.9,27.1 M979.6,166.8q5.3,10.9 13.3,20.1 M1005.2,165.7q3.2,6.6 8.1,12.2 M1037.8,176.6q4.6,9.3 11.4,17.2 M1058.1,192.0q5.2,10.6 12.9,19.5 M1010.1,172.1q4.0,8.2 10.0,15.1 M994.8,202.5q5.5,11.3 13.8,20.8 M1050.8,193.3q6.7,13.7 16.8,25.4 M991.8,200.8q4.3,8.7 10.7,16.1 M1004.7,151.9q6.0,12.2 14.9,22.5 M1048.8,196.6q4.5,9.2 11.2,16.9 M974.2,199.1q5.9,12.0 14.7,22.2 M1045.2,212.6q6.3,12.8 15.6,23.6 M1064.2,186.4q3.3,6.7 8.2,12.4 M977.1,247.7q3.9,8.0 9.8,14.8 M1065.8,179.0q6.0,12.2 14.9,22.5 M1046.6,154.5q5.8,11.8 14.4,21.8 M1020.7,175.2q6.1,12.6 15.4,23.2 M1020.6,176.4q4.0,8.2 10.0,15.1 M1027.7,186.2q6.4,13.2 16.1,24.3 M948.6,251.1q3.2,6.6 8.1,12.2 M1044.2,153.2q6.0,12.2 14.9,22.5 M983.6,172.8q6.5,13.4 16.4,24.7 M1015.0,211.2q4.4,9.0 11.0,16.6 M993.5,213.0q5.0,10.2 12.4,18.8 M1028.2,156.7q3.3,6.8 8.3,12.5 M1016.9,230.5q3.6,7.4 9.0,13.6 M1047.9,174.2q7.1,14.6 17.8,26.9 M997.4,236.8q4.8,9.8 12.0,18.0 M1015.3,148.2q7.4,15.1 18.5,27.9 M1003.4,205.3q3.5,7.2 8.8,13.3 M1028.0,212.3q3.7,7.7 9.4,14.1 M932.1,259.3q6.1,12.5 15.2,23.0 M951.3,203.3q3.5,7.1 8.7,13.1 M1062.0,210.1q3.2,6.5 7.9,11.9 M1035.6,201.0q6.3,12.9 15.8,23.8 M956.9,245.4q6.5,13.3 16.2,24.5 M1034.7,155.6q6.3,12.9 15.7,23.7 M942.1,222.9q6.2,12.7 15.5,23.4 M1000.3,162.1q4.2,8.6 10.5,15.8 M1076.0,185.6q3.1,6.4 7.8,11.8 M931.2,235.7q6.7,13.7 16.7,25.2 M941.3,239.6q6.3,12.9 15.7,23.7 M955.5,197.6q5.2,10.7 13.0,19.7 M939.3,240.9q5.6,11.5 14.0,21.2 M997.7,185.6q3.7,7.6 9.3,14.0 M1047.6,191.1q5.9,12.1 14.8,22.3 M1024.4,194.4q4.8,9.8 11.9,18.0 M1045.1,150.2q6.5,13.4 16.3,24.6 M1017.1,210.6q3.3,6.8 8.4,12.6 M1072.5,179.6q6.7,13.7 16.8,25.4 M977.0,191.3q7.4,15.1 18.5,27.8 M1054.6,179.0q4.4,9.1 11.1,16.7 M994.8,166.8q4.7,9.7 11.8,17.9 M1029.5,173.3q7.0,14.4 17.6,26.5 M1052.9,202.6q3.1,6.3 7.7,11.6 M969.2,215.2q5.7,11.6 14.2,21.4 M1054.0,162.8q3.3,6.7 8.2,12.3 M1051.6,160.3q6.9,14.1 17.2,26.0 M1013.1,203.9q6.8,14.0 17.1,25.7 M1047.4,167.0q7.1,14.5 17.8,26.8 M981.7,235.2q5.5,11.3 13.8,20.8 M1047.0,200.9q6.4,13.1 16.0,24.1 M1067.6,197.4q5.8,11.8 14.4,21.7 M1032.6,190.8q4.0,8.2 10.0,15.0 M966.7,189.9q6.6,13.4 16.4,24.8 M996.9,225.8q6.6,13.6 16.6,25.0 M1044.3,201.3q5.6,11.5 14.1,21.2 M1063.0,164.3q5.4,11.0 13.4,20.3 M1003.0,189.9q3.9,8.0 9.8,14.8 M958.1,237.1q6.2,12.6 15.4,23.3 M985.0,197.7q4.9,9.9 12.1,18.3 M1009.9,225.1q3.3,6.7 8.2,12.4 M1080.3,200.1q3.5,7.3 8.9,13.4 M1026.3,167.4q3.8,7.7 9.4,14.2 M1018.8,200.3q5.4,11.0 13.4,20.2 M931.0,254.9q7.4,15.2 18.6,28.1 M1058.2,184.1q5.6,11.4 13.9,21.0 M969.9,190.7q5.0,10.1 12.4,18.7 M1068.5,172.9q6.7,13.7 16.7,25.2 M1075.7,202.5q3.2,6.6 8.1,12.2 M963.1,242.6q3.4,7.1 8.6,13.0 M936.2,230.8q6.9,14.1 17.3,26.1 M996.0,154.5q7.1,14.5 17.7,26.7 M941.0,231.1q4.8,9.9 12.1,18.2 M950.1,202.4q4.2,8.6 10.5,15.9 M1011.4,173.5q7.3,14.9 18.2,27.5 M1030.0,194.2q5.1,10.3 12.6,19.1 M951.5,187.0q7.4,15.2 18.6,28.1 M965.1,249.3q4.2,8.6 10.5,15.9 M980.4,166.8q7.1,14.4 17.7,26.6 M1052.6,208.8q6.5,13.4 16.4,24.7 M1032.6,168.6q7.4,15.2 18.5,28.0 M937.6,249.9q6.4,13.1 16.0,24.2 M1070.6,181.1q4.4,9.0 11.0,16.6 M1020.5,171.4q3.5,7.2 8.9,13.4 M980.9,227.6q3.6,7.4 9.1,13.7 M1003.4,223.6q4.1,8.4 10.3,15.6 M955.0,217.5q3.1,6.4 7.8,11.8 M1039.4,211.5q3.2,6.6 8.1,12.2 M1065.1,194.8q7.2,14.7 18.0,27.1 M1060.9,165.1q3.7,7.6 9.2,13.9 M994.3,224.5q7.2,14.7 17.9,27.0 M1055.4,176.2q5.1,10.4 12.7,19.1 M981.1,178.5q5.2,10.6 13.0,19.5 M1025.2,217.9q4.1,8.3 10.1,15.3 M939.0,225.7q5.5,11.3 13.8,20.8 M953.7,202.8q4.3,8.7 10.6,16.0 M993.0,228.4q4.3,8.7 10.7,16.1 M1056.7,197.1q3.8,7.8 9.5,14.4 M1000.9,204.1q7.1,14.4 17.6,26.6 M950.4,204.5q3.3,6.8 8.3,12.6 M1064.6,178.7q4.0,8.2 10.0,15.1" stroke="#C80000" stroke-width="0.9" fill="none" opacity="0.9"/></g>
<path d="M1019.7,232.9Q1022.7,250.4 1030.8,262.1 M1094.6,205.1Q1097.8,224.5 1112.8,229.8 M1051.9,229.1Q1054.2,242.7 1064.0,248.0 M972.8,256.5Q976.9,281.1 985.7,291.7 M1075.0,215.0Q1077.7,231.2 1083.4,240.5 M1048.9,219.1Q1051.4,234.2 1060.5,241.1 M992.5,247.2Q997.3,275.7 1017.9,289.8 M981.6,252.2Q985.3,274.2 1000.0,280.3 M1063.3,223.3Q1068.6,255.2 1085.7,263.4 M1077.8,218.7Q1081.0,237.7 1087.8,249.0 M1004.0,239.7Q1008.4,265.8 1015.0,277.9 M1018.4,232.8Q1023.2,261.4 1044.0,278.9 M1004.7,242.1Q1009.6,271.5 1018.0,289.6 M1083.7,212.2Q1087.8,236.9 1101.7,243.3 M1082.2,207.6Q1084.8,223.0 1090.9,232.1 M959.8,260.4Q962.7,277.8 967.2,286.5 M1035.3,233.3Q1037.9,248.7 1049.6,257.2 M962.0,257.2Q966.0,281.2 975.9,288.4 M1008.7,240.4Q1014.0,272.2 1024.7,287.8 M1053.0,226.3Q1058.6,259.8 1074.5,274.0 M1069.3,216.5Q1074.9,250.0 1098.5,263.2 M989.7,246.8Q995.5,281.2 1020.2,302.8 M1070.0,213.6Q1074.1,238.0 1093.8,253.6 M991.9,248.7Q995.4,269.8 1007.2,275.6 M1016.6,232.2Q1019.3,248.4 1032.6,257.7 M1083.2,216.6Q1088.5,248.9 1113.3,257.5 M1040.7,229.8Q1043.8,248.9 1054.7,261.0 M1037.9,228.9Q1041.6,251.4 1059.8,259.8 M1001.9,239.8Q1006.2,265.8 1027.2,277.9 M994.9,246.6Q997.7,263.0 1003.0,268.0 M997.5,242.4Q1000.5,260.8 1006.1,269.6 M1070.3,218.6Q1074.9,245.9 1084.9,260.7 M1020.7,237.9Q1024.6,261.3 1034.7,269.5 M989.4,247.1Q993.8,272.9 1000.4,283.2 M1068.7,217.3Q1072.7,241.2 1082.6,256.9 M1002.1,240.7Q1004.5,255.4 1015.6,261.7 M967.4,255.7Q972.2,284.8 981.3,294.8 M1087.3,207.7Q1090.7,228.2 1100.1,239.0 M1044.4,232.7Q1048.5,257.1 1065.1,270.8 M1058.4,225.2Q1063.2,253.7 1085.5,262.3 M1067.1,219.4Q1071.4,245.3 1085.4,262.1 M1033.5,234.5Q1038.8,266.5 1058.2,279.6 M1018.5,239.7Q1021.8,259.2 1031.1,268.6 M1008.2,243.8Q1013.4,275.4 1030.5,289.1 M982.1,246.1Q986.4,271.7 1001.5,279.1 M1077.3,217.9Q1082.5,249.2 1107.8,259.7 M1020.6,232.4Q1023.0,246.7 1031.3,253.2 M1082.7,214.2Q1088.5,249.0 1107.7,265.2 M1047.8,223.7Q1052.1,249.8 1064.0,266.6 M1048.3,221.1Q1051.8,242.4 1062.1,252.7 M1039.3,236.5Q1043.3,260.3 1055.3,272.4 M1087.3,210.4Q1092.5,241.2 1103.2,253.0 M1090.8,211.0Q1093.4,226.6 1105.5,235.0 M1072.4,223.4Q1076.2,245.7 1083.8,253.9 M1026.8,230.3Q1029.6,247.5 1040.2,256.1 M1012.2,243.6Q1014.5,257.7 1021.5,265.9 M1002.6,238.3Q1005.9,258.1 1020.5,267.8 M1043.3,226.3Q1047.4,251.4 1057.6,264.5 M1035.2,234.0Q1038.9,256.1 1046.0,263.0 M1054.0,217.0Q1056.8,233.8 1066.1,243.8 M1043.5,223.8Q1045.7,237.2 1055.1,242.4 M1051.2,220.0Q1054.4,238.9 1060.2,250.8 M1034.0,230.0Q1037.6,251.5 1043.7,264.9 M1041.4,229.8Q1045.8,256.4 1056.3,263.5 M1085.0,211.0Q1090.5,243.6 1114.1,255.9 M1044.0,229.5Q1049.6,263.2 1062.8,277.1 M1050.0,221.5Q1055.4,253.6 1072.5,272.2 M988.2,245.7Q991.1,262.9 1005.1,269.3 M1028.5,232.0Q1032.1,253.5 1042.6,259.5 M980.5,251.6Q983.6,270.1 990.3,276.9 M985.7,249.7Q989.2,270.3 996.2,281.4 M969.9,258.9Q972.6,274.9 980.7,284.4 M1060.5,217.7Q1065.3,246.5 1078.8,265.2 M993.0,249.2Q996.0,267.3 1005.3,272.8 M1049.0,229.2Q1053.3,255.1 1065.3,264.2 M1035.7,233.7Q1038.4,249.6 1047.1,257.1 M998.9,244.7Q1003.4,272.1 1019.3,282.5 M1006.0,236.2Q1011.3,267.8 1025.1,284.4 M975.5,252.4Q979.5,276.4 989.7,283.1 M997.6,239.5Q1002.4,268.2 1014.3,280.2 M1081.3,218.9Q1086.6,250.7 1097.0,262.3 M966.7,260.0Q970.1,280.8 980.4,291.7 M1047.9,228.9Q1051.4,249.7 1064.2,256.5 M980.5,256.6Q985.3,285.2 993.1,292.8 M978.0,249.1Q981.6,270.5 987.4,278.6" stroke="#F01010" stroke-width="0.8" fill="none"/>
</g>
<rect x="882.9" y="390.8" width="411.6" height="16.80000000000001" fill="url(#jet)" stroke="#3A3A3A" stroke-width="1.3"/>
<path d="M956.0,390.8v2.6M956.0,407.6v-2.6 M1028.4,390.8v2.6M1028.4,407.6v-2.6 M1101.8,390.8v2.6M1101.8,407.6v-2.6 M1173.9,390.8v2.6M1173.9,407.6v-2.6 M1246.7,390.8v2.6M1246.7,407.6v-2.6" stroke="#222" stroke-width="1" fill="none"/>
<text x="896.7" y="432.3" font-size="18.4" text-anchor="middle">0.000</text>
<text x="974.3" y="432.3" font-size="18.4" text-anchor="middle">0.001</text>
<text x="1046.8" y="432.3" font-size="18.4" text-anchor="middle">0.002</text>
<text x="1124.9" y="432.3" font-size="18.4" text-anchor="middle">0.003</text>
<text x="1192.3" y="432.3" font-size="18.4" text-anchor="middle">0.004</text>
<text x="1264.7" y="432.3" font-size="18.4" text-anchor="middle">0.005</text>
<text class="b" x="1098.3" y="466" font-size="18.7" text-anchor="middle">Simulated flow field</text>
<clipPath id="cd1"><path d="M885.3,566.1H918.9L925,548 936,527 951,511 970,503 994.7,499.4 1022,504 1040,512 1056,528 1066,548 1071.2,566.1H1104.2V576.6H885.3Z"/></clipPath>
<g clip-path="url(#cd1)">
<rect x="880" y="495" width="230" height="85" fill="#FFF4F4"/>
<path d="M996.9,577.8A6.1,5.9 0 0 1 1009.1,577.7 M995.7,576.2A7.5,7.3 0 0 1 1010.0,575.2 M994.4,576.0A8.9,8.6 0 0 1 1011.4,575.1 M993.5,575.2A9.9,9.6 0 0 1 1012.9,577.1 M991.3,578.2A11.7,11.3 0 0 1 1014.6,577.5 M989.6,578.2A13.4,13.0 0 0 1 1015.4,572.9 M989.1,574.2A14.4,14.0 0 0 1 1016.3,572.3 M986.9,573.8A16.6,16.1 0 0 1 1017.8,570.4 M985.3,575.9A17.9,17.3 0 0 1 1020.8,576.1 M983.6,576.6A19.4,18.9 0 0 1 1020.3,569.1 M982.2,575.3A21.0,20.4 0 0 1 1024.0,577.9 M981.4,572.5A22.2,21.6 0 0 1 1025.2,576.7 M979.6,574.7A23.7,22.9 0 0 1 1023.8,566.8 M978.0,574.7A25.2,24.4 0 0 1 1027.5,572.1 M976.2,577.6A26.8,26.0 0 0 1 1029.7,575.4 M976.2,571.6A27.5,26.7 0 0 1 1030.4,576.0 M974.3,572.9A29.2,28.3 0 0 1 1032.2,578.5 M972.5,572.6A31.0,30.0 0 0 1 1031.7,566.4 M971.2,574.7A31.9,31.0 0 0 1 1033.6,568.8 M969.6,575.2A33.5,32.5 0 0 1 1033.2,563.5 M968.5,570.2A35.4,34.3 0 0 1 1035.7,564.5 M967.0,572.1A36.5,35.4 0 0 1 1038.1,568.1 M964.7,574.2A38.5,37.4 0 0 1 1039.1,564.6 M963.1,577.2A40.0,38.8 0 0 1 1042.1,569.7 M963.6,566.8A40.9,39.7 0 0 1 1043.0,569.2 M960.3,576.7A42.8,41.5 0 0 1 1045.3,571.6 M959.4,571.8A44.1,42.8 0 0 1 1046.9,573.8 M957.2,577.6A45.8,44.4 0 0 1 1045.8,561.8 M956.2,575.9A46.8,45.4 0 0 1 1044.3,556.0 M954.8,576.0A48.2,46.7 0 0 1 1050.8,571.7 M953.2,577.6A49.8,48.3 0 0 1 1049.9,561.3 M952.0,572.7A51.3,49.7 0 0 1 1049.6,556.6 M950.6,579.6A52.4,50.8 0 0 1 1055.4,579.6 M948.5,578.1A54.5,52.8 0 0 1 1057.0,571.3 M947.8,567.9A56.1,54.4 0 0 1 1053.2,552.9 M946.4,570.5A57.1,55.4 0 0 1 1055.2,554.8 M944.4,579.9A58.7,56.9 0 0 1 1061.7,577.4 M944.1,565.7A60.2,58.4 0 0 1 1063.2,577.9 M941.4,574.2A61.7,59.8 0 0 1 1060.1,554.8 M940.3,579.5A62.7,60.8 0 0 1 1065.4,572.3 M938.4,572.9A64.8,62.8 0 0 1 1062.1,551.6 M939.7,559.1A66.0,64.1 0 0 1 1069.0,577.6 M938.3,560.3A67.1,65.1 0 0 1 1070.0,574.0 M934.2,571.8A69.1,67.0 0 0 1 1066.0,549.8 M932.7,571.8A70.6,68.5 0 0 1 1070.1,555.9 M931.6,570.3A71.8,69.7 0 0 1 1074.7,573.7 M930.0,579.4A73.0,70.8 0 0 1 1074.4,563.0 M931.1,557.3A74.8,72.6 0 0 1 1077.2,568.3 M930.6,553.4A76.5,74.2 0 0 1 1077.2,559.3 M925.4,576.0A77.6,75.3 0 0 1 1075.7,550.9 M923.9,578.3A79.1,76.8 0 0 1 1081.4,567.0 M923.5,567.2A80.2,77.8 0 0 1 1083.2,579.4 M1010.7,590.4A19.3,18.7 0 0 1 1048.5,584.7 M1008.3,584.6A22.4,21.7 0 0 1 1049.4,578.8 M1004.6,582.3A26.5,25.7 0 0 1 1056.4,587.8 M1001.4,587.9A28.7,27.8 0 0 1 1058.4,585.6 M998.5,586.0A31.8,30.8 0 0 1 1060.0,579.6 M996.2,582.4A34.6,33.6 0 0 1 1064.5,587.8 M991.7,588.9A38.4,37.2 0 0 1 1065.9,576.5 M990.2,582.7A40.5,39.3 0 0 1 1068.3,576.9 M987.0,590.1A43.0,41.7 0 0 1 1070.5,575.5 M986.2,574.6A46.4,45.0 0 0 1 1076.4,589.3 M982.8,573.3A50.1,48.6 0 0 1 1080.1,590.7 M979.4,575.6A52.6,51.0 0 0 1 1076.4,565.3 M975.5,579.0A55.6,53.9 0 0 1 1082.1,570.5 M974.8,571.0A58.4,56.6 0 0 1 1086.5,575.3 M968.8,585.1A61.4,59.6 0 0 1 1088.1,570.0 M965.2,591.6A64.8,62.9 0 0 1 1089.2,563.7 M963.3,580.8A67.4,65.4 0 0 1 1089.9,559.1 M960.1,582.4A70.3,68.2 0 0 1 1098.9,576.1 M958.2,577.8A72.8,70.6 0 0 1 1101.2,575.0 M954.3,589.3A75.7,73.4 0 0 1 1099.0,558.9 M951.7,576.1A79.5,77.1 0 0 1 1101.2,554.6 M947.8,584.9A82.4,79.9 0 0 1 1103.4,552.6 M945.4,584.8A84.8,82.2 0 0 1 1112.1,569.0 M942.4,585.4A87.7,85.1 0 0 1 1115.9,572.2 M941.3,575.5A89.9,87.2 0 0 1 1118.2,572.6 M937.9,578.7A92.8,90.0 0 0 1 1112.2,546.9 M937.8,561.8A96.4,93.5 0 0 1 1124.1,569.3 M933.5,564.8A99.8,96.8 0 0 1 1119.4,545.7 M929.8,565.2A103.2,100.1 0 0 1 1122.2,543.6 M924.8,577.8A105.9,102.7 0 0 1 1126.3,546.1 M922.7,570.3A109.0,105.8 0 0 1 1138.6,580.1 M923.3,561.3A110.5,107.2 0 0 1 1127.5,537.8 M917.0,577.7A113.7,110.2 0 0 1 1128.9,534.0 M912.9,584.5A117.2,113.7 0 0 1 1139.9,549.1 M944.8,580.1A30.4,29.5 0 0 1 1005.4,583.2 M942.9,574.1A33.6,32.6 0 0 1 1007.9,577.0 M939.1,572.9A37.6,36.5 0 0 1 1009.2,568.3 M934.6,580.1A40.6,39.4 0 0 1 1015.4,580.1 M932.9,571.8A43.9,42.5 0 0 1 1014.4,564.7 M929.8,572.5A46.6,45.2 0 0 1 1021.6,584.3 M924.3,584.9A50.7,49.2 0 0 1 1024.8,574.6 M923.0,574.8A52.8,51.2 0 0 1 1027.7,580.0 M921.6,566.3A56.2,54.5 0 0 1 1030.6,575.8 M915.2,581.6A59.9,58.1 0 0 1 1032.6,567.8 M911.7,571.9A64.4,62.5 0 0 1 1032.7,555.4 M908.8,583.5A66.2,64.2 0 0 1 1041.0,579.0 M906.2,571.6A69.9,67.8 0 0 1 1040.3,559.3 M901.2,575.8A74.3,72.0 0 0 1 1042.1,552.2 M898.1,570.7A78.0,75.7 0 0 1 1052.3,573.2 M898.1,557.7A81.2,78.8 0 0 1 1045.7,543.9" stroke="#F01010" stroke-width="0.75" fill="none"/>
<path d="M885.3,567.4H1104.2 M885.3,569.5H1104.2 M885.3,571.6H1104.2 M885.3,573.7H1104.2 M885.3,575.8H1104.2" stroke="#F01010" stroke-width="0.9" fill="none"/>
<circle cx="998.1" cy="534.7" r="1.25" fill="#D01010"/>
<circle cx="1013.9" cy="556.3" r="1.25" fill="#D01010"/>
<circle cx="992.2" cy="520.9" r="1.25" fill="#D01010"/>
<circle cx="994.1" cy="534.7" r="1.25" fill="#D01010"/>
<circle cx="1005.4" cy="559.1" r="1.25" fill="#D01010"/>
<circle cx="1008.0" cy="545.8" r="1.25" fill="#D01010"/>
<circle cx="995.3" cy="523.9" r="1.25" fill="#D01010"/>
<circle cx="986.6" cy="520.3" r="1.25" fill="#D01010"/>
<circle cx="995.4" cy="536.7" r="1.25" fill="#D01010"/>
<circle cx="1001.3" cy="532.8" r="1.25" fill="#D01010"/>
<circle cx="999.6" cy="532.1" r="1.25" fill="#D01010"/>
<circle cx="1019.9" cy="562.8" r="1.25" fill="#D01010"/>
<circle cx="1006.0" cy="549.7" r="1.25" fill="#D01010"/>
<circle cx="1000.1" cy="543.0" r="1.25" fill="#D01010"/>
<circle cx="1015.0" cy="538.6" r="1.25" fill="#D01010"/>
<circle cx="977.0" cy="515.9" r="1.25" fill="#D01010"/>
<circle cx="1014.5" cy="553.2" r="1.25" fill="#D01010"/>
<circle cx="1002.8" cy="547.5" r="1.25" fill="#D01010"/>
<circle cx="1018.2" cy="548.8" r="1.25" fill="#D01010"/>
<circle cx="1004.3" cy="552.3" r="1.25" fill="#D01010"/>
<circle cx="1002.5" cy="550.5" r="1.25" fill="#D01010"/>
<circle cx="990.9" cy="531.6" r="1.25" fill="#D01010"/>
<circle cx="983.0" cy="520.9" r="1.25" fill="#D01010"/>
<circle cx="1013.3" cy="562.8" r="1.25" fill="#D01010"/>
<circle cx="991.9" cy="529.9" r="1.25" fill="#D01010"/>
<circle cx="996.8" cy="522.6" r="1.25" fill="#D01010"/>
<circle cx="993.4" cy="538.5" r="1.25" fill="#D01010"/>
<circle cx="994.4" cy="531.1" r="1.25" fill="#D01010"/>
<circle cx="990.9" cy="534.2" r="1.25" fill="#D01010"/>
<circle cx="1006.1" cy="541.0" r="1.25" fill="#D01010"/>
<circle cx="1013.7" cy="558.7" r="1.25" fill="#D01010"/>
<circle cx="977.6" cy="520.5" r="1.25" fill="#D01010"/>
<circle cx="996.2" cy="530.0" r="1.25" fill="#D01010"/>
<circle cx="1018.1" cy="558.1" r="1.25" fill="#D01010"/>
<circle cx="1013.9" cy="560.3" r="1.25" fill="#D01010"/>
<circle cx="985.6" cy="518.9" r="1.25" fill="#D01010"/>
<circle cx="1008.6" cy="551.8" r="1.25" fill="#D01010"/>
<circle cx="982.8" cy="522.2" r="1.25" fill="#D01010"/>
<circle cx="1008.1" cy="550.6" r="1.25" fill="#D01010"/>
<circle cx="1015.2" cy="560.6" r="1.25" fill="#D01010"/>
<circle cx="1014.2" cy="552.3" r="1.25" fill="#D01010"/>
<circle cx="989.9" cy="525.5" r="1.25" fill="#D01010"/>
<circle cx="1007.1" cy="552.4" r="1.25" fill="#D01010"/>
<circle cx="987.0" cy="530.0" r="1.25" fill="#D01010"/>
<circle cx="1000.1" cy="548.8" r="1.25" fill="#D01010"/>
<circle cx="999.2" cy="532.9" r="1.25" fill="#D01010"/>
<circle cx="1038.6" cy="535.0" r="1.25" fill="#D01010"/>
<circle cx="1049.3" cy="550.2" r="1.25" fill="#D01010"/>
<circle cx="1060.2" cy="550.8" r="1.25" fill="#D01010"/>
<circle cx="1054.9" cy="553.6" r="1.25" fill="#D01010"/>
<circle cx="1054.2" cy="553.1" r="1.25" fill="#D01010"/>
<circle cx="1043.5" cy="539.2" r="1.25" fill="#D01010"/>
<circle cx="1064.6" cy="562.7" r="1.25" fill="#D01010"/>
<circle cx="1045.0" cy="548.2" r="1.25" fill="#D01010"/>
<circle cx="1050.3" cy="550.6" r="1.25" fill="#D01010"/>
<circle cx="1047.8" cy="544.1" r="1.25" fill="#D01010"/>
<circle cx="1057.7" cy="554.3" r="1.25" fill="#D01010"/>
<circle cx="1049.0" cy="538.7" r="1.25" fill="#D01010"/>
<circle cx="1050.0" cy="552.8" r="1.25" fill="#D01010"/>
<circle cx="1062.9" cy="566.3" r="1.25" fill="#D01010"/>
<circle cx="1047.6" cy="547.3" r="1.25" fill="#D01010"/>
<circle cx="1051.6" cy="546.8" r="1.25" fill="#D01010"/>
<circle cx="1059.0" cy="560.3" r="1.25" fill="#D01010"/>
<circle cx="1047.6" cy="540.5" r="1.25" fill="#D01010"/>
<circle cx="1057.3" cy="558.5" r="1.25" fill="#D01010"/>
<circle cx="1050.3" cy="548.3" r="1.25" fill="#D01010"/>
<circle cx="1059.8" cy="558.7" r="1.25" fill="#D01010"/>
<circle cx="1041.2" cy="534.2" r="1.25" fill="#D01010"/>
<circle cx="1057.9" cy="567.4" r="1.25" fill="#D01010"/>
<circle cx="1049.6" cy="543.8" r="1.25" fill="#D01010"/>
<circle cx="1049.3" cy="545.0" r="1.25" fill="#D01010"/>
<circle cx="1062.9" cy="560.6" r="1.25" fill="#D01010"/>
<circle cx="1050.6" cy="547.6" r="1.25" fill="#D01010"/>
<circle cx="1046.0" cy="556.5" r="1.25" fill="#D01010"/>
<circle cx="1060.7" cy="565.0" r="1.25" fill="#D01010"/>
<circle cx="1045.7" cy="545.9" r="1.25" fill="#D01010"/>
<circle cx="1010.7" cy="565.7" r="1.25" fill="#D01010"/>
<circle cx="1022.8" cy="573.2" r="1.25" fill="#D01010"/>
<circle cx="1007.1" cy="562.2" r="1.25" fill="#D01010"/>
<circle cx="1036.1" cy="569.3" r="1.25" fill="#D01010"/>
<circle cx="1031.1" cy="567.7" r="1.25" fill="#D01010"/>
<circle cx="1007.0" cy="564.3" r="1.25" fill="#D01010"/>
<circle cx="1004.8" cy="559.7" r="1.25" fill="#D01010"/>
<circle cx="1012.7" cy="563.7" r="1.25" fill="#D01010"/>
<circle cx="1010.5" cy="561.4" r="1.25" fill="#D01010"/>
<circle cx="1032.4" cy="568.5" r="1.25" fill="#D01010"/>
<circle cx="1037.1" cy="570.3" r="1.25" fill="#D01010"/>
<circle cx="1007.2" cy="563.4" r="1.25" fill="#D01010"/>
<circle cx="1001.8" cy="559.6" r="1.25" fill="#D01010"/>
<circle cx="1030.9" cy="569.5" r="1.25" fill="#D01010"/>
</g>
<path d="M918.9,566.1L925,548 936,527 951,511 970,503 994.7,499.4 1022,504 1040,512 1056,528 1066,548 1071.2,566.1" fill="none" stroke="#555" stroke-width="0.8"/>
<path d="M885.3,566.1H1104.2M885.3,576.6H1104.2M994.7,499.4V576.6M918.9,566.1V576.6M1071.2,566.1V576.6" stroke="#222" stroke-width="0.8" fill="none"/>
<rect x="1121.4" y="566.8" width="161.4" height="11.7" fill="#fff" stroke="#555" stroke-width="0.7"/>
<rect x="1123.1" y="567.3" width="157.6" height="9.8" fill="#00007C"/>
<clipPath id="cd1r"><polygon points="1129.9,565.6 1134.9,546.9 1148.4,524.9 1171.9,508.5 1201.7,502.5 1231.6,508.5 1255.1,524.9 1268.6,546.9 1273.6,565.6"/></clipPath>
<polygon points="1129.9,565.6 1134.9,546.9 1148.4,524.9 1171.9,508.5 1201.7,502.5 1231.6,508.5 1255.1,524.9 1268.6,546.9 1273.6,565.6" fill="url(#hotd1)"/>
<g clip-path="url(#cd1r)"><g filter="url(#blur15)" fill="none" stroke-linejoin="round">
<path d="M1129.9,565.6L1134.9,546.9 1148.4,524.9 1171.9,508.5 1201.7,502.5 1231.6,508.5 1255.1,524.9 1268.6,546.9 1273.6,565.6" stroke="#0028F0" stroke-width="19"/>
<path d="M1129.9,565.6L1134.9,546.9 1148.4,524.9 1171.9,508.5 1201.7,502.5 1231.6,508.5 1255.1,524.9 1268.6,546.9 1273.6,565.6" stroke="#0000D0" stroke-width="11.5"/>
</g></g>
<path d="M1138.7,565.5Q1136.2,556.7 1145.1,548.3 M1144.7,565.5Q1142.4,559.8 1150.4,554.6 M1153.5,565.5Q1151.5,556.8 1158.3,548.7 M1161.8,565.5Q1160.2,549.2 1165.8,533.3 M1166.1,565.5Q1164.7,552.4 1169.7,539.7 M1175.3,565.5Q1174.2,545.0 1177.9,525.0 M1181.8,565.5Q1181.0,544.1 1183.8,523.3 M1188.8,565.5Q1188.3,541.2 1190.1,517.4 M1194.5,565.5Q1194.2,544.8 1195.2,524.6 M1203.0,565.5Q1203.0,542.1 1202.9,519.1 M1209.5,565.5Q1209.8,541.7 1208.7,518.5 M1216.8,565.5Q1217.4,543.7 1215.4,522.3 M1224.3,565.5Q1225.2,547.5 1222.1,530.1 M1231.5,565.5Q1232.7,550.1 1228.5,535.1 M1240.2,565.5Q1241.7,549.0 1236.4,533.0 M1246.9,565.5Q1248.7,553.4 1242.4,541.8 M1256.5,565.5Q1258.7,555.5 1251.0,546.0 M1261.0,565.5Q1263.3,560.6 1255.1,556.2 M1270.9,565.5Q1273.7,562.3 1264.0,559.5" stroke="#E01010" stroke-width="0.7" fill="none" opacity="0.85"/>
<path d="M1201.7,502.5V566" stroke="#222" stroke-width="0.8"/>
<path d="M1125,566.3H1278.5" stroke="#000060" stroke-width="1.2"/>
<rect x="882.9" y="580.3" width="411.6" height="17.5" fill="url(#jet)" stroke="#3A3A3A" stroke-width="1.3"/>
<path d="M956.0,580.3v2.6M956.0,597.8v-2.6 M1028.4,580.3v2.6M1028.4,597.8v-2.6 M1101.8,580.3v2.6M1101.8,597.8v-2.6 M1173.9,580.3v2.6M1173.9,597.8v-2.6 M1246.7,580.3v2.6M1246.7,597.8v-2.6" stroke="#222" stroke-width="1" fill="none"/>
<text x="896.7" y="621.5" font-size="18.4" text-anchor="middle">0.000</text>
<text x="974.3" y="621.5" font-size="18.4" text-anchor="middle">0.001</text>
<text x="1046.8" y="621.5" font-size="18.4" text-anchor="middle">0.002</text>
<text x="1124.9" y="621.5" font-size="18.4" text-anchor="middle">0.003</text>
<text x="1192.3" y="621.5" font-size="18.4" text-anchor="middle">0.004</text>
<text x="1264.7" y="621.5" font-size="18.4" text-anchor="middle">0.005</text>
<text class="b" x="1102" y="647.7" font-size="18.7" text-anchor="middle">Dome 1</text>
<clipPath id="cd2"><ellipse cx="990.7" cy="722.5" rx="67.3" ry="63.4"/></clipPath>
<g clip-path="url(#cd2)">
<rect x="920" y="655" width="142" height="135" fill="#FFF3F3"/>
<path d="M982.3,725.8A7.8,7.4 0 0 1 996.5,719.4 M982.1,726.5A9.2,8.7 0 0 1 999.3,721.4 M982.7,724.5A10.6,9.9 0 1 1 1002.2,730.7 M983.0,728.0A12.0,11.3 0 1 1 1007.0,726.9 M983.0,724.9A12.8,12.0 0 1 1 1008.5,725.3 M982.4,717.9A13.8,13.0 0 1 1 1004.2,730.5 M978.2,727.3A15.1,14.2 0 1 1 1007.7,720.8 M980.5,720.4A16.2,15.3 0 0 1 1009.4,721.3 M972.8,724.8A17.9,16.8 0 0 1 1008.5,726.0 M970.6,719.7A19.3,18.1 0 0 1 1006.6,732.4 M976.1,718.7A20.2,19.0 0 1 1 1012.1,733.8 M972.5,722.5A21.3,20.0 0 1 1 1013.0,732.4 M967.9,724.3A22.7,21.4 0 0 1 1013.0,722.6 M966.2,728.8A23.9,22.5 0 1 1 1009.7,742.0 M968.4,730.6A25.1,23.6 0 1 1 1006.7,741.1 M968.0,715.7A26.3,24.7 0 0 1 1018.2,721.6 M967.9,719.4A27.2,25.6 0 1 1 1014.0,742.5 M966.1,722.9A29.0,27.2 0 1 1 1015.5,739.7 M959.7,728.2A30.1,28.3 0 0 1 1017.2,711.5 M963.4,725.5A31.0,29.2 0 0 1 1023.2,714.3 M963.7,727.4A32.3,30.3 0 1 1 1027.4,733.8 M961.3,713.7A33.8,31.8 0 0 1 1027.8,723.2 M955.4,728.2A34.8,32.7 0 1 1 1024.6,726.2 M957.6,740.5A35.6,33.5 0 1 1 1024.2,717.6 M954.0,731.9A37.4,35.1 0 1 1 1016.6,748.1 M956.6,739.0A38.1,35.8 0 1 1 1030.8,733.6 M957.5,740.8A39.9,37.5 0 1 1 1032.2,730.1 M953.0,725.3A40.8,38.3 0 1 1 1029.6,741.1 M948.9,718.6A42.3,39.8 0 1 1 1016.1,755.7 M952.9,731.2A43.1,40.5 0 1 1 1033.1,747.3 M944.4,731.4A44.4,41.7 0 1 1 1030.9,740.0 M955.0,748.0A45.7,43.0 0 1 1 1037.2,744.6 M944.8,730.7A46.9,44.1 0 1 1 1037.5,738.0 M943.1,722.3A48.5,45.6 0 1 1 1026.2,756.7 M949.9,745.4A49.5,46.5 0 1 1 1036.3,748.1 M947.3,745.8A50.6,47.6 0 1 1 1044.0,719.3 M947.6,740.9A51.5,48.4 0 1 1 1035.2,750.7 M937.5,712.9A53.1,49.9 0 0 1 1040.1,738.4 M940.1,717.2A53.9,50.7 0 1 1 1020.6,768.0 M939.8,729.0A55.7,52.4 0 1 1 1048.4,736.5 M941.0,734.6A56.3,53.0 0 1 1 1052.2,721.1 M937.2,722.5A57.7,54.3 0 1 1 1052.1,732.9 M936.0,707.8A58.8,55.3 0 1 1 1030.5,769.2 M929.7,715.7A60.2,56.6 0 0 1 1049.7,724.1 M930.7,732.1A61.5,57.8 0 1 1 1037.6,764.6 M939.4,752.0A62.6,58.8 0 1 1 1057.9,723.8 M1034.2,721.3Q1032.0,751.7 992.3,786.0 M935.7,715.2Q932.0,752.0 1000.5,786.0 M950.7,748.6Q946.2,774.8 985.6,786.0 M1029.8,733.2Q1034.1,759.7 963.4,786.0 M944.5,709.4Q943.7,750.4 1012.4,786.0 M948.8,735.0Q951.2,764.3 998.5,786.0 M1047.6,707.6Q1044.1,734.6 1012.1,786.0 M966.5,740.8Q967.5,779.0 1013.9,786.0 M959.4,747.1Q963.5,773.2 999.1,786.0 M1041.3,702.2Q1038.8,731.8 1007.5,786.0 M945.1,716.6Q949.2,759.8 992.1,786.0 M956.4,743.7Q952.8,788.3 969.2,786.0 M1027.9,701.7Q1029.6,731.2 982.0,786.0 M946.7,704.9Q943.9,738.5 986.7,786.0 M940.8,705.9Q945.4,749.4 1007.1,786.0 M1054.5,748.9Q1052.0,780.8 990.2,786.0 M937.7,725.8Q942.6,760.5 1012.8,786.0 M932.7,731.1Q937.6,758.9 991.0,786.0 M1022.6,746.4Q1019.4,789.9 1008.0,786.0 M969.3,731.1Q971.1,775.0 1014.9,786.0 M941.8,702.6Q942.4,732.6 979.4,786.0 M1043.4,709.3Q1040.9,735.7 1004.8,786.0 M946.1,705.0Q942.6,741.9 991.6,786.0 M950.4,701.8Q955.2,739.7 989.4,786.0 M1016.5,730.1Q1015.0,768.3 980.5,786.0 M963.5,708.8Q965.5,750.7 1013.4,786.0 M932.3,725.0Q937.1,767.6 969.0,786.0 M1015.9,725.8Q1011.3,760.2 990.7,786.0 M963.5,727.8Q965.1,756.8 989.1,786.0 M952.9,710.6Q956.1,753.0 967.8,786.0 M1032.8,746.3Q1038.1,781.1 961.5,786.0 M935.9,729.7Q939.1,769.7 999.3,786.0 M963.9,713.7Q965.2,749.1 962.4,786.0 M1023.5,746.3Q1024.5,776.0 965.4,786.0 M944.5,740.8Q949.8,770.7 1000.5,786.0 M944.3,751.1Q942.9,790.0 963.0,786.0 M1046.5,717.8Q1046.1,761.2 1006.1,786.0 M970.2,748.9Q971.3,775.7 983.8,786.0 M959.9,738.2Q964.1,770.0 998.7,786.0 M1016.9,710.3Q1014.8,754.8 973.0,786.0 M926.8,741.2Q926.9,781.7 987.6,786.0 M930.7,739.1Q934.4,776.6 996.3,786.0 M1047.9,740.9Q1050.5,772.9 965.9,786.0 M963.6,750.2Q960.6,777.9 998.4,786.0 M934.2,748.7Q931.3,790.4 1011.4,786.0 M1046.0,730.7Q1049.9,771.4 985.1,786.0 M932.4,715.5Q932.0,759.5 1014.5,786.0 M965.6,750.4Q968.6,792.1 1004.8,786.0 M1020.9,710.3Q1017.8,745.1 986.3,786.0 M930.7,735.6Q932.0,776.3 1000.5,786.0 M935.8,735.5Q931.9,768.6 1013.4,786.0 M1014.5,733.9Q1012.6,770.8 1007.5,786.0 M933.9,741.2Q934.0,766.6 961.0,786.0 M965.8,742.2Q964.6,776.4 984.1,786.0 M1025.5,711.1Q1029.6,748.5 980.5,786.0 M957.8,704.6Q955.4,738.4 975.9,786.0 M941.6,742.0Q939.4,767.8 967.5,786.0 M1046.9,709.6Q1052.4,741.8 975.9,786.0 M960.8,746.3Q956.1,779.2 994.9,786.0 M948.7,749.7Q942.9,778.5 989.1,786.0 M1047.2,708.4Q1041.3,736.9 990.2,786.0 M929.1,723.6Q932.1,755.7 1006.0,786.0 M966.3,728.7Q966.1,761.3 1009.0,786.0 M1051.6,746.5Q1046.5,784.0 998.0,786.0 M951.2,749.8Q949.2,787.4 981.0,786.0 M954.2,727.2Q949.3,762.1 998.6,786.0 M1026.7,750.8Q1030.7,789.4 963.9,786.0 M946.2,723.3Q941.5,762.9 1002.8,786.0 M937.7,701.8Q942.1,745.9 978.9,786.0 M1049.9,707.5Q1050.8,733.4 993.6,786.0 M953.4,738.9Q956.1,779.1 996.6,786.0 M957.9,728.3Q952.2,766.3 984.3,786.0 M1046.1,735.2Q1051.7,774.4 982.0,786.0 M940.3,714.4Q939.4,755.9 969.8,786.0 M935.8,718.1Q935.6,760.6 968.5,786.0 M1017.8,738.4Q1015.6,764.5 970.3,786.0 M957.6,719.9Q952.1,748.7 1014.8,786.0 M957.1,749.1Q959.2,782.8 971.8,786.0 M1015.5,713.5Q1014.1,757.8 982.8,786.0 M959.0,710.6Q959.6,752.3 1011.6,786.0 M1023.5,759.8A24.6,22.1 0 1 1 1027.0,726.4 M1007.0,727.8A20.2,18.2 0 1 1 1004.9,764.2 M1006.8,759.6A17.4,15.7 0 1 1 1027.8,740.2 M1016.1,726.7A14.8,13.3 0 1 1 994.8,741.2 M1012.0,756.6A17.2,15.5 0 0 1 1002.4,727.9 M990.0,756.6A22.3,20.0 0 1 1 1020.9,763.1 M1014.3,743.7A10.9,9.8 0 1 1 996.6,738.3 M1033.5,734.2A26.0,23.4 0 1 1 995.3,723.0 M994.8,760.0A16.9,15.2 0 0 1 1012.0,734.0 M991.5,720.1A30.7,27.6 0 1 1 976.7,751.3 M994.3,744.1A11.5,10.3 0 1 1 1015.4,740.4 M983.2,760.4A30.2,27.1 0 1 1 1036.8,752.9 M1018.1,735.9A15.1,13.6 0 0 1 1006.0,760.5 M1029.5,730.3A25.5,22.9 0 1 1 999.2,722.9 M1029.6,728.8A27.3,24.6 0 0 1 997.3,767.6 M1004.3,768.7A26.3,23.7 0 0 1 999.4,723.1 M1015.3,762.0A23.7,21.3 0 0 1 1002.8,720.9 M1011.5,740.8A10.4,9.4 0 1 1 1001.9,757.3 M989.0,769.1A26.2,23.6 0 0 1 995.2,725.0 M1024.4,749.3A24.4,21.9 0 1 1 986.9,723.9 M1020.2,720.6A22.4,20.2 0 0 1 1007.5,758.6 M1000.8,753.0A13.8,12.5 0 1 1 1021.2,739.9" stroke="#F01010" stroke-width="0.95" fill="none"/>
<circle cx="1001.8" cy="772.7" r="1.2" fill="#D01010"/>
<circle cx="1005.2" cy="773.7" r="1.2" fill="#D01010"/>
<circle cx="1007.0" cy="683.1" r="1.2" fill="#D01010"/>
<circle cx="1044.3" cy="732.2" r="1.2" fill="#D01010"/>
<circle cx="1034.2" cy="729.8" r="1.2" fill="#D01010"/>
<circle cx="966.4" cy="734.3" r="1.2" fill="#D01010"/>
<circle cx="954.7" cy="687.0" r="1.2" fill="#D01010"/>
<circle cx="956.0" cy="703.5" r="1.2" fill="#D01010"/>
<circle cx="943.5" cy="719.2" r="1.2" fill="#D01010"/>
<circle cx="999.3" cy="775.8" r="1.2" fill="#D01010"/>
<circle cx="1046.2" cy="720.9" r="1.2" fill="#D01010"/>
<circle cx="1027.1" cy="714.0" r="1.2" fill="#D01010"/>
<circle cx="1018.3" cy="720.2" r="1.2" fill="#D01010"/>
<circle cx="960.9" cy="726.4" r="1.2" fill="#D01010"/>
<circle cx="941.9" cy="736.1" r="1.2" fill="#D01010"/>
<circle cx="979.7" cy="684.5" r="1.2" fill="#D01010"/>
<circle cx="973.2" cy="747.6" r="1.2" fill="#D01010"/>
<circle cx="961.4" cy="741.6" r="1.2" fill="#D01010"/>
<circle cx="1008.9" cy="768.8" r="1.2" fill="#D01010"/>
<circle cx="949.2" cy="718.6" r="1.2" fill="#D01010"/>
<circle cx="1007.4" cy="768.0" r="1.2" fill="#D01010"/>
<circle cx="1002.2" cy="753.3" r="1.2" fill="#D01010"/>
<circle cx="942.7" cy="704.8" r="1.2" fill="#D01010"/>
<circle cx="1043.3" cy="714.0" r="1.2" fill="#D01010"/>
<circle cx="1047.5" cy="704.5" r="1.2" fill="#D01010"/>
<circle cx="981.6" cy="674.6" r="1.2" fill="#D01010"/>
<circle cx="1021.0" cy="734.2" r="1.2" fill="#D01010"/>
<circle cx="1048.3" cy="726.9" r="1.2" fill="#D01010"/>
<circle cx="982.0" cy="677.7" r="1.2" fill="#D01010"/>
<circle cx="987.4" cy="758.2" r="1.2" fill="#D01010"/>
<circle cx="1016.0" cy="761.5" r="1.2" fill="#D01010"/>
<circle cx="1027.3" cy="720.6" r="1.2" fill="#D01010"/>
<circle cx="1021.1" cy="730.6" r="1.2" fill="#D01010"/>
<circle cx="954.4" cy="766.0" r="1.2" fill="#D01010"/>
<circle cx="1004.8" cy="685.4" r="1.2" fill="#D01010"/>
<circle cx="1014.0" cy="738.7" r="1.2" fill="#D01010"/>
<circle cx="1021.7" cy="764.2" r="1.2" fill="#D01010"/>
<circle cx="929.1" cy="733.0" r="1.2" fill="#D01010"/>
<circle cx="1037.5" cy="695.3" r="1.2" fill="#D01010"/>
<circle cx="935.1" cy="730.4" r="1.2" fill="#D01010"/>
</g>
<ellipse cx="990.7" cy="722.5" rx="67.3" ry="63.4" fill="none" stroke="#444" stroke-width="0.8"/>
<path d="M887,778.0H1105.9 M887,780.6H1105.9 M887,783.2H1105.9" stroke="#F01010" stroke-width="0.8" fill="none" stroke-dasharray="46 4 30 3 18 5" opacity="0.6"/>
<path d="M955,785.5Q990,772 1028,785.5" stroke="#E8181C" stroke-width="0.9" fill="none"/>
<path d="M886.9,775.3H1105.9M886.9,785.8H1105.9" stroke="#222" stroke-width="1" fill="none"/>
<path d="M886.9,777.2H1105.9M886.9,787.2H1105.9" stroke="#999" stroke-width="0.7" fill="none"/>
<path d="M923.4,722.5H1058" stroke="#333" stroke-width="0.7"/>
<path d="M990.7,659.1V786" stroke="#2020C0" stroke-width="0.8"/>
<clipPath id="cd3"><ellipse cx="1205.2" cy="716.7" rx="63.7" ry="62.6"/></clipPath>
<ellipse cx="1205.2" cy="716.7" rx="63.7" ry="62.6" fill="#000084"/>
<g clip-path="url(#cd3)">
<path d="M1178.0,771.5Q1162.8,706.3 1166.1,749.2 M1178.8,771.5Q1160.9,728.4 1168.2,764.1 M1180.9,771.5Q1167.5,724.4 1158.2,756.5 M1181.3,771.5Q1170.3,717.6 1165.5,725.6 M1181.0,771.5Q1162.0,713.9 1168.5,760.7 M1180.9,771.5Q1171.9,709.7 1147.4,748.0 M1182.7,771.5Q1165.8,706.2 1147.5,745.8 M1182.6,771.5Q1173.1,717.7 1147.0,741.5 M1183.0,771.5Q1166.8,719.1 1163.9,744.6 M1184.8,771.5Q1166.6,701.6 1158.1,727.9 M1184.9,771.5Q1166.9,707.2 1159.1,753.9 M1185.9,771.5Q1175.9,727.3 1152.1,745.3 M1186.4,771.5Q1179.3,730.2 1164.3,715.2 M1186.3,771.5Q1179.4,727.9 1149.9,710.0 M1187.7,771.5Q1181.1,727.9 1170.5,709.6 M1188.7,771.5Q1182.3,728.5 1170.0,710.3 M1188.2,771.5Q1182.0,723.3 1148.4,699.3 M1188.9,771.5Q1183.0,727.2 1171.8,706.8 M1189.2,771.5Q1183.5,721.4 1156.6,694.7 M1189.9,771.5Q1184.5,725.1 1171.4,701.5 M1192.0,771.5Q1186.8,724.5 1175.4,699.9 M1192.0,771.5Q1187.0,720.6 1164.8,691.6 M1193.1,771.5Q1188.4,724.5 1174.4,698.8 M1192.9,771.5Q1188.4,719.0 1159.7,687.4 M1194.4,771.5Q1190.1,722.4 1175.9,693.7 M1194.2,771.5Q1190.2,715.1 1158.6,678.7 M1194.2,771.5Q1190.4,714.1 1165.7,676.2 M1194.8,771.5Q1191.3,719.5 1176.2,686.4 M1195.5,771.5Q1192.3,711.7 1167.3,670.4 M1195.9,771.5Q1192.9,721.0 1181.6,688.5 M1197.5,771.5Q1194.8,717.0 1180.0,680.1 M1199.0,771.5Q1196.4,711.8 1177.9,669.2 M1199.4,771.5Q1197.1,720.6 1189.4,686.2 M1199.2,771.5Q1197.2,718.5 1190.0,681.6 M1199.9,771.5Q1198.1,717.6 1190.5,679.4 M1200.3,771.5Q1198.7,715.6 1188.1,674.9 M1201.6,771.5Q1200.2,710.8 1192.2,664.8 M1202.9,771.5Q1201.8,717.2 1196.5,677.1 M1201.5,771.5Q1200.7,709.6 1193.0,661.3 M1202.8,771.5Q1202.2,710.8 1199.4,663.3 M1204.3,771.5Q1204.0,719.8 1202.1,680.9 M1204.0,771.5Q1203.9,716.6 1204.2,673.9 M1204.3,771.5Q1204.5,712.8 1206.2,666.4 M1205.5,771.5Q1205.8,712.2 1210.9,665.7 M1205.4,771.5Q1206.0,717.2 1208.7,676.2 M1205.9,771.5Q1206.8,711.5 1212.7,665.2 M1206.9,771.5Q1208.0,712.0 1216.1,666.6 M1208.7,771.5Q1210.0,717.4 1214.8,678.0 M1208.2,771.5Q1209.8,708.5 1222.5,660.7 M1209.7,771.5Q1211.5,712.5 1224.6,669.0 M1209.2,771.5Q1211.2,716.2 1220.8,677.0 M1210.6,771.5Q1212.9,713.6 1231.1,672.4 M1210.6,771.5Q1213.2,717.4 1224.4,680.3 M1211.8,771.5Q1214.6,720.7 1225.4,687.4 M1212.2,771.5Q1215.2,721.7 1226.1,690.0 M1212.6,771.5Q1215.9,714.4 1241.2,675.7 M1212.8,771.5Q1216.3,712.7 1242.2,673.0 M1214.6,771.5Q1218.3,721.1 1232.5,690.2 M1216.0,771.5Q1220.0,716.9 1242.3,682.3 M1214.8,771.5Q1219.0,715.1 1246.7,679.1 M1216.0,771.5Q1220.5,723.0 1235.5,695.5 M1216.4,771.5Q1221.1,720.1 1244.3,690.1 M1218.1,771.5Q1223.1,721.7 1242.1,693.7 M1217.6,771.5Q1222.8,723.3 1239.3,697.4 M1219.1,771.5Q1224.5,720.7 1256.6,692.7 M1220.1,771.5Q1225.8,725.6 1236.5,703.1 M1220.0,771.5Q1225.9,726.7 1239.4,705.7 M1220.0,771.5Q1226.2,725.0 1248.3,702.8 M1221.0,771.5Q1227.4,724.8 1262.2,702.9 M1221.4,771.5Q1228.0,727.6 1253.2,709.0 M1223.5,771.5Q1230.3,729.5 1241.5,713.2 M1223.2,771.5Q1230.3,728.9 1243.0,712.5 M1223.2,771.5Q1244.2,713.8 1242.7,736.4 M1224.9,771.5Q1237.3,706.2 1242.5,744.5 M1225.4,771.5Q1247.2,714.4 1249.4,730.1 M1225.0,771.5Q1240.3,700.7 1241.0,753.1 M1226.3,771.5Q1237.5,715.0 1258.5,748.1 M1227.2,771.5Q1246.4,728.4 1256.3,731.2 M1228.0,771.5Q1248.7,705.5 1261.3,740.8 M1227.6,771.5Q1236.8,706.5 1255.1,763.8 M1227.9,771.5Q1238.6,722.5 1251.2,731.0 M1229.6,771.5Q1247.1,700.4 1263.2,742.3 M1231.0,771.5Q1246.1,728.4 1246.3,745.5 M1230.7,771.5Q1241.7,725.0 1264.5,751.7" stroke="#F41414" stroke-width="0.85" fill="none"/>
<circle cx="1166.1" cy="749.2" r="1.35" fill="#F41414"/>
<circle cx="1168.2" cy="764.1" r="1.35" fill="#F41414"/>
<circle cx="1158.2" cy="756.5" r="1.35" fill="#F41414"/>
<circle cx="1165.5" cy="725.6" r="1.35" fill="#F41414"/>
<circle cx="1168.5" cy="760.7" r="1.35" fill="#F41414"/>
<circle cx="1147.4" cy="748.0" r="1.35" fill="#F41414"/>
<circle cx="1147.5" cy="745.8" r="1.35" fill="#F41414"/>
<circle cx="1147.0" cy="741.5" r="1.35" fill="#F41414"/>
<circle cx="1163.9" cy="744.6" r="1.35" fill="#F41414"/>
<circle cx="1158.1" cy="727.9" r="1.35" fill="#F41414"/>
<circle cx="1159.1" cy="753.9" r="1.35" fill="#F41414"/>
<circle cx="1152.1" cy="745.3" r="1.35" fill="#F41414"/>
<circle cx="1164.3" cy="715.2" r="1.35" fill="#F41414"/>
<circle cx="1149.9" cy="710.0" r="1.35" fill="#F41414"/>
<circle cx="1173.8" cy="716.2" r="1.35" fill="#F41414"/>
<circle cx="1170.5" cy="709.6" r="1.35" fill="#F41414"/>
<circle cx="1174.4" cy="717.9" r="1.35" fill="#F41414"/>
<circle cx="1170.0" cy="710.3" r="1.35" fill="#F41414"/>
<circle cx="1160.2" cy="709.3" r="1.35" fill="#F41414"/>
<circle cx="1148.4" cy="699.3" r="1.35" fill="#F41414"/>
<circle cx="1171.8" cy="706.8" r="1.35" fill="#F41414"/>
<circle cx="1168.6" cy="709.3" r="1.35" fill="#F41414"/>
<circle cx="1156.6" cy="694.7" r="1.35" fill="#F41414"/>
<circle cx="1171.4" cy="701.5" r="1.35" fill="#F41414"/>
<circle cx="1175.4" cy="699.9" r="1.35" fill="#F41414"/>
<circle cx="1178.3" cy="714.8" r="1.35" fill="#F41414"/>
<circle cx="1164.8" cy="691.6" r="1.35" fill="#F41414"/>
<circle cx="1186.1" cy="730.1" r="1.35" fill="#F41414"/>
<circle cx="1174.4" cy="698.8" r="1.35" fill="#F41414"/>
<circle cx="1171.9" cy="703.4" r="1.35" fill="#F41414"/>
<circle cx="1159.7" cy="687.4" r="1.35" fill="#F41414"/>
<circle cx="1188.5" cy="731.2" r="1.35" fill="#F41414"/>
<circle cx="1175.9" cy="693.7" r="1.35" fill="#F41414"/>
<circle cx="1182.4" cy="717.7" r="1.35" fill="#F41414"/>
<circle cx="1158.6" cy="678.7" r="1.35" fill="#F41414"/>
<circle cx="1165.7" cy="676.2" r="1.35" fill="#F41414"/>
<circle cx="1176.2" cy="686.4" r="1.35" fill="#F41414"/>
<circle cx="1167.3" cy="670.4" r="1.35" fill="#F41414"/>
<circle cx="1188.5" cy="713.5" r="1.35" fill="#F41414"/>
<circle cx="1181.6" cy="688.5" r="1.35" fill="#F41414"/>
<circle cx="1188.3" cy="706.0" r="1.35" fill="#F41414"/>
<circle cx="1180.0" cy="680.1" r="1.35" fill="#F41414"/>
<circle cx="1177.9" cy="669.2" r="1.35" fill="#F41414"/>
<circle cx="1192.6" cy="702.5" r="1.35" fill="#F41414"/>
<circle cx="1189.4" cy="686.2" r="1.35" fill="#F41414"/>
<circle cx="1190.0" cy="681.6" r="1.35" fill="#F41414"/>
<circle cx="1196.4" cy="719.3" r="1.35" fill="#F41414"/>
<circle cx="1190.5" cy="679.4" r="1.35" fill="#F41414"/>
<circle cx="1188.1" cy="674.9" r="1.35" fill="#F41414"/>
<circle cx="1192.2" cy="664.8" r="1.35" fill="#F41414"/>
<circle cx="1200.4" cy="715.5" r="1.35" fill="#F41414"/>
<circle cx="1196.5" cy="677.1" r="1.35" fill="#F41414"/>
<circle cx="1193.0" cy="661.3" r="1.35" fill="#F41414"/>
<circle cx="1199.4" cy="663.3" r="1.35" fill="#F41414"/>
<circle cx="1202.1" cy="680.9" r="1.35" fill="#F41414"/>
<circle cx="1204.1" cy="688.5" r="1.35" fill="#F41414"/>
<circle cx="1204.2" cy="673.9" r="1.35" fill="#F41414"/>
<circle cx="1205.6" cy="683.6" r="1.35" fill="#F41414"/>
<circle cx="1206.2" cy="666.4" r="1.35" fill="#F41414"/>
<circle cx="1210.9" cy="665.7" r="1.35" fill="#F41414"/>
<circle cx="1208.7" cy="676.2" r="1.35" fill="#F41414"/>
<circle cx="1212.7" cy="665.2" r="1.35" fill="#F41414"/>
<circle cx="1212.2" cy="692.8" r="1.35" fill="#F41414"/>
<circle cx="1216.1" cy="666.6" r="1.35" fill="#F41414"/>
<circle cx="1212.2" cy="703.4" r="1.35" fill="#F41414"/>
<circle cx="1214.8" cy="678.0" r="1.35" fill="#F41414"/>
<circle cx="1214.9" cy="696.5" r="1.35" fill="#F41414"/>
<circle cx="1222.5" cy="660.7" r="1.35" fill="#F41414"/>
<circle cx="1212.7" cy="728.7" r="1.35" fill="#F41414"/>
<circle cx="1224.6" cy="669.0" r="1.35" fill="#F41414"/>
<circle cx="1212.1" cy="729.2" r="1.35" fill="#F41414"/>
<circle cx="1220.8" cy="677.0" r="1.35" fill="#F41414"/>
<circle cx="1222.6" cy="695.4" r="1.35" fill="#F41414"/>
<circle cx="1231.1" cy="672.4" r="1.35" fill="#F41414"/>
<circle cx="1218.3" cy="704.5" r="1.35" fill="#F41414"/>
<circle cx="1224.4" cy="680.3" r="1.35" fill="#F41414"/>
<circle cx="1225.4" cy="687.4" r="1.35" fill="#F41414"/>
<circle cx="1226.1" cy="690.0" r="1.35" fill="#F41414"/>
<circle cx="1221.1" cy="720.1" r="1.35" fill="#F41414"/>
<circle cx="1241.2" cy="675.7" r="1.35" fill="#F41414"/>
<circle cx="1227.9" cy="700.4" r="1.35" fill="#F41414"/>
<circle cx="1242.2" cy="673.0" r="1.35" fill="#F41414"/>
<circle cx="1219.2" cy="734.4" r="1.35" fill="#F41414"/>
<circle cx="1232.5" cy="690.2" r="1.35" fill="#F41414"/>
<circle cx="1223.6" cy="725.3" r="1.35" fill="#F41414"/>
<circle cx="1242.3" cy="682.3" r="1.35" fill="#F41414"/>
<circle cx="1238.0" cy="691.8" r="1.35" fill="#F41414"/>
<circle cx="1246.7" cy="679.1" r="1.35" fill="#F41414"/>
<circle cx="1235.5" cy="695.5" r="1.35" fill="#F41414"/>
<circle cx="1225.0" cy="727.6" r="1.35" fill="#F41414"/>
<circle cx="1244.3" cy="690.1" r="1.35" fill="#F41414"/>
<circle cx="1242.1" cy="693.7" r="1.35" fill="#F41414"/>
<circle cx="1226.3" cy="726.4" r="1.35" fill="#F41414"/>
<circle cx="1239.3" cy="697.4" r="1.35" fill="#F41414"/>
<circle cx="1238.9" cy="712.8" r="1.35" fill="#F41414"/>
<circle cx="1256.6" cy="692.7" r="1.35" fill="#F41414"/>
<circle cx="1225.6" cy="737.9" r="1.35" fill="#F41414"/>
<circle cx="1236.5" cy="703.1" r="1.35" fill="#F41414"/>
<circle cx="1229.6" cy="726.9" r="1.35" fill="#F41414"/>
<circle cx="1239.4" cy="705.7" r="1.35" fill="#F41414"/>
<circle cx="1227.1" cy="739.4" r="1.35" fill="#F41414"/>
<circle cx="1248.3" cy="702.8" r="1.35" fill="#F41414"/>
<circle cx="1230.2" cy="739.2" r="1.35" fill="#F41414"/>
<circle cx="1262.2" cy="702.9" r="1.35" fill="#F41414"/>
<circle cx="1253.2" cy="709.0" r="1.35" fill="#F41414"/>
<circle cx="1241.5" cy="713.2" r="1.35" fill="#F41414"/>
<circle cx="1243.0" cy="712.5" r="1.35" fill="#F41414"/>
<circle cx="1242.7" cy="736.4" r="1.35" fill="#F41414"/>
<circle cx="1242.5" cy="744.5" r="1.35" fill="#F41414"/>
<circle cx="1249.4" cy="730.1" r="1.35" fill="#F41414"/>
<circle cx="1241.0" cy="753.1" r="1.35" fill="#F41414"/>
<circle cx="1258.5" cy="748.1" r="1.35" fill="#F41414"/>
<circle cx="1256.3" cy="731.2" r="1.35" fill="#F41414"/>
<circle cx="1261.3" cy="740.8" r="1.35" fill="#F41414"/>
<circle cx="1255.1" cy="763.8" r="1.35" fill="#F41414"/>
<circle cx="1251.2" cy="731.0" r="1.35" fill="#F41414"/>
<circle cx="1263.2" cy="742.3" r="1.35" fill="#F41414"/>
<circle cx="1246.3" cy="745.5" r="1.35" fill="#F41414"/>
<circle cx="1264.5" cy="751.7" r="1.35" fill="#F41414"/>
<ellipse cx="1204.7" cy="772" rx="35" ry="38" fill="url(#hotd2)" opacity="0.88"/>
<path d="M1179.5,771.5q-1.3,-14 -6.3,-40.0 M1182.2,771.5q-1.1,-14 -5.6,-27.6 M1185.3,771.5q-1.0,-14 -4.8,-29.1 M1186.8,771.5q-0.9,-14 -4.5,-29.5 M1189.5,771.5q-0.8,-14 -3.8,-24.4 M1191.3,771.5q-0.7,-14 -3.4,-26.6 M1194.3,771.5q-0.5,-14 -2.6,-24.0 M1196.3,771.5q-0.4,-14 -2.1,-28.1 M1198.3,771.5q-0.3,-14 -1.6,-33.0 M1201.0,771.5q-0.2,-14 -0.9,-26.2 M1202.6,771.5q-0.1,-14 -0.5,-25.9 M1206.0,771.5q0.1,-14 0.3,-26.4 M1207.0,771.5q0.1,-14 0.6,-32.4 M1210.0,771.5q0.3,-14 1.3,-38.2 M1211.5,771.5q0.3,-14 1.7,-27.7 M1214.0,771.5q0.5,-14 2.3,-33.4 M1216.7,771.5q0.6,-14 3.0,-30.5 M1219.7,771.5q0.8,-14 3.8,-34.6 M1222.0,771.5q0.9,-14 4.3,-39.3 M1223.3,771.5q0.9,-14 4.7,-39.1 M1225.9,771.5q1.1,-14 5.3,-24.8 M1229.0,771.5q1.2,-14 6.1,-25.7" stroke="#F41414" stroke-width="0.6" fill="none" opacity="0.75"/>
<circle cx="1183.5" cy="747.5" r="1.2" fill="#E01010"/>
<circle cx="1195.4" cy="765.1" r="1.2" fill="#E01010"/>
<circle cx="1221.0" cy="750.9" r="1.2" fill="#E01010"/>
<circle cx="1206.0" cy="762.1" r="1.2" fill="#E01010"/>
<circle cx="1218.2" cy="757.0" r="1.2" fill="#E01010"/>
<circle cx="1205.3" cy="743.0" r="1.2" fill="#E01010"/>
<circle cx="1193.4" cy="757.1" r="1.2" fill="#E01010"/>
<circle cx="1208.5" cy="760.8" r="1.2" fill="#E01010"/>
<circle cx="1222.2" cy="765.0" r="1.2" fill="#E01010"/>
<circle cx="1191.2" cy="742.0" r="1.2" fill="#E01010"/>
<circle cx="1222.2" cy="754.8" r="1.2" fill="#E01010"/>
<circle cx="1190.7" cy="758.0" r="1.2" fill="#E01010"/>
<circle cx="1193.9" cy="746.2" r="1.2" fill="#E01010"/>
<circle cx="1198.8" cy="753.6" r="1.2" fill="#E01010"/>
</g>
<path d="M1141.5,716.7H1269M1205.2,654.1V771" stroke="#111" stroke-width="0.8"/>
<rect x="1169.9" y="771.3" width="70" height="14.5" fill="#000084"/>
<path d="M1169.9,771.3H1239.9" stroke="#111" stroke-width="1"/>
<path d="M1169.9,786.3H1239.9" stroke="#8890A0" stroke-width="1"/>
<rect x="885.3" y="790.5" width="410.9000000000001" height="16.799999999999955" fill="url(#jet)" stroke="#3A3A3A" stroke-width="1.3"/>
<path d="M958.4,790.5v2.6M958.4,807.3v-2.6 M1030.8,790.5v2.6M1030.8,807.3v-2.6 M1104.2,790.5v2.6M1104.2,807.3v-2.6 M1176.3,790.5v2.6M1176.3,807.3v-2.6 M1249.1,790.5v2.6M1249.1,807.3v-2.6" stroke="#222" stroke-width="1" fill="none"/>
<text x="898.7" y="831.4" font-size="18.4" text-anchor="middle">0.000</text>
<text x="976.4" y="831.4" font-size="18.4" text-anchor="middle">0.001</text>
<text x="1049.1" y="831.4" font-size="18.4" text-anchor="middle">0.002</text>
<text x="1127.3" y="831.4" font-size="18.4" text-anchor="middle">0.003</text>
<text x="1194.6" y="831.4" font-size="18.4" text-anchor="middle">0.004</text>
<text x="1267" y="831.4" font-size="18.4" text-anchor="middle">0.005</text>
<text class="b" x="1094" y="863.4" font-size="18.7" text-anchor="middle">Dome 2</text>
<defs><linearGradient id="gbg" x1="0" y1="0" x2="0" y2="1">
<stop offset="0" stop-color="#FCFC08"/>
<stop offset="0.10" stop-color="#E6F41C"/>
<stop offset="0.20" stop-color="#C6EA38"/>
<stop offset="0.31" stop-color="#A6E250"/>
<stop offset="0.36" stop-color="#8ACA5C"/>
<stop offset="0.405" stop-color="#60B85E"/>
<stop offset="0.45" stop-color="#40A862"/>
<stop offset="0.49" stop-color="#2E9E64"/>
<stop offset="0.56" stop-color="#2CA882"/>
<stop offset="0.65" stop-color="#26AAA8"/>
<stop offset="0.72" stop-color="#20AED0"/>
<stop offset="0.78" stop-color="#1AB0E6"/>
<stop offset="0.9" stop-color="#06AEEC"/>
<stop offset="1" stop-color="#00ADEF"/>
</linearGradient></defs>
<rect x="133.5" y="963.3" width="440.1" height="322.20000000000005" fill="url(#gbg)"/>
<clipPath id="cp133"><rect x="133.5" y="961.3" width="440.6" height="326.20000000000005"/></clipPath>
<path d="M133.5,1264.1 L157.9,1261.0 L179.7,1254.4 L202.1,1261.0 L221.4,1257.5 L243.3,1257.5 L263.6,1264.1 L284.9,1257.5 L305.3,1264.1 L326.6,1211.6 L347.5,1150.4 L368.8,1089.2 L390.1,1040.8 L411.0,1057.1 L431.3,1050.5 L452.6,1034.7 L474.0,1021.4 L494.8,1018.4 L516.2,1024.5 L537.5,1028.0 L558.4,1021.9 L573.6,1019.4" fill="none" stroke="#000" stroke-width="2.4" stroke-linejoin="round" clip-path="url(#cp133)"/>
<path d="M133.5,1165.7 L152.8,1157.0 L201.1,1167.2 L217.9,1163.7 L264.6,1131.5 L281.4,1128.5 L295.1,1121.3 L310.4,1124.9 L325.6,1134.1 L343.4,1150.4 L357.6,1135.1 L374.9,1144.3 L405.4,1118.3 L422.2,1144.3 L437.4,1134.6 L452.6,1173.3 L468.9,1160.6 L484.2,1150.9 L500.9,1157.0 L531.4,1157.0 L548.2,1173.3 L563.4,1183.5 L573.6,1176.9" fill="none" stroke="#FF0000" stroke-width="2.4" stroke-linejoin="round" clip-path="url(#cp133)"/>
<path d="M133.5,1160.6 L136.5,1163.7 L143.7,1186.1 L152.8,1168.2 L160.4,1155.5 L167.0,1150.4 L174.7,1147.3 L181.8,1147.3 L190.9,1140.2 L197.5,1137.7 L204.6,1150.4 L221.4,1150.4 L236.7,1157.0 L244.3,1163.7 L252.9,1167.2 L260.5,1167.2 L268.2,1157.0 L275.8,1157.0 L283.4,1160.6 L291.0,1160.6 L298.7,1163.7 L306.8,1170.3 L314.4,1173.3 L322.0,1176.9 L329.7,1167.2 L338.3,1170.3 L353.6,1170.3 L361.2,1163.7 L368.8,1160.6 L376.4,1167.2 L385.1,1176.9 L391.7,1163.7 L399.3,1167.2 L406.9,1170.3 L414.5,1176.9 L423.2,1176.9 L438.4,1189.7 L446.6,1189.7 L454.2,1183.5 L461.8,1183.5 L469.4,1180.0 L478.1,1180.0 L485.7,1176.9 L523.8,1176.9 L531.4,1180.0 L539.0,1180.0 L573.6,1194.8" fill="none" stroke="#FF00FF" stroke-width="2.4" stroke-linejoin="round" clip-path="url(#cp133)"/>
<path d="M133.5,1123.9 L138.6,1124.9 L155.4,1154.0 L173.1,1154.0 L207.7,1160.6 L243.3,1147.3 L260.5,1150.9 L295.1,1137.7 L311.9,1141.2 L348.5,1141.2 L363.7,1144.3 L381.5,1154.0 L399.3,1144.3 L417.1,1128.0 L434.9,1115.2 L451.1,1112.2 L468.9,1118.3 L486.7,1137.7 L503.5,1147.3 L521.3,1131.5 L537.5,1128.5 L555.3,1134.6 L573.6,1144.3" fill="none" stroke="#0000FF" stroke-width="2.4" stroke-linejoin="round" clip-path="url(#cp133)"/>
<rect x="133.5" y="963.3" width="440.1" height="322.20000000000005" fill="none" stroke="#000" stroke-width="2.4"/>
<path d="M126.5,1285.5H133.5 M129.0,1253.3H133.5 M126.5,1221.1H133.5 M129.0,1188.8H133.5 M126.5,1156.6H133.5 M129.0,1124.4H133.5 M126.5,1092.2H133.5 M129.0,1060.0H133.5 M126.5,1027.7H133.5 M129.0,995.5H133.5 M126.5,963.3H133.5 M179.8,1285.5V1292.5 M237.7,1285.5V1290.0 M295.6,1285.5V1292.5 M353.6,1285.5V1290.0 M411.5,1285.5V1292.5 M469.4,1285.5V1290.0 M527.3,1285.5V1292.5" stroke="#000" stroke-width="1.8" fill="none"/>
<text x="122.5" y="1291.0" font-size="17.3" text-anchor="end">100</text>
<text x="122.5" y="1226.6" font-size="17.3" text-anchor="end">120</text>
<text x="122.5" y="1162.1" font-size="17.3" text-anchor="end">140</text>
<text x="122.5" y="1097.7" font-size="17.3" text-anchor="end">160</text>
<text x="122.5" y="1033.2" font-size="17.3" text-anchor="end">180</text>
<text x="122.5" y="968.8" font-size="17.3" text-anchor="end">200</text>
<text x="179.8" y="1310.5" font-size="17.3" text-anchor="middle">1.0</text>
<text x="295.6" y="1310.5" font-size="17.3" text-anchor="middle">1.5</text>
<text x="411.5" y="1310.5" font-size="17.3" text-anchor="middle">2.0</text>
<text x="527.3" y="1310.5" font-size="17.3" text-anchor="middle">2.5</text>
<text x="353.7" y="1339.5" font-size="17.3" text-anchor="middle">Channel width (mm)</text>
<text transform="translate(75,1141) rotate(-90)" font-size="17.3" text-anchor="middle">Green Intensity</text>
<path d="M145,986.5H186" stroke="#000" stroke-width="2.4"/>
<text x="190" y="992" font-size="17.3">40 µLmin<tspan font-size="10.5" dy="-7.5">-1</tspan><tspan dy="7.5"> (regular Y channel)</tspan></text>
<path d="M145,1010.2H186" stroke="#FF0000" stroke-width="2.4"/>
<text x="190" y="1015.7" font-size="17.3">20 µLmin<tspan font-size="10.5" dy="-7.5">-1</tspan></text>
<path d="M145,1034.0H186" stroke="#FF00FF" stroke-width="2.4"/>
<text x="190" y="1039.5" font-size="17.3">40 µLmin<tspan font-size="10.5" dy="-7.5">-1</tspan></text>
<path d="M145,1057.5H186" stroke="#0000FF" stroke-width="2.4"/>
<text x="190" y="1063" font-size="17.3">80 µLmin<tspan font-size="10.5" dy="-7.5">-1</tspan></text>
<text class="b" x="39" y="948.5" font-size="26">d</text>
<rect x="784.5" y="966" width="439.79999999999995" height="323.29999999999995" fill="url(#gbg)"/>
<clipPath id="cp784"><rect x="784.5" y="964" width="440.29999999999995" height="327.29999999999995"/></clipPath>
<path d="M784.5,1267.8 L808.9,1264.7 L830.7,1258.1 L853.1,1264.7 L872.4,1261.2 L894.2,1261.2 L914.5,1267.8 L935.8,1261.2 L956.2,1267.8 L977.5,1215.1 L998.3,1153.7 L1019.6,1092.4 L1041.0,1043.8 L1061.8,1060.1 L1082.1,1053.5 L1103.4,1037.6 L1124.8,1024.3 L1145.6,1021.2 L1166.9,1027.4 L1188.2,1031.0 L1209.1,1024.8 L1224.3,1022.3" fill="none" stroke="#000" stroke-width="2.4" stroke-linejoin="round" clip-path="url(#cp784)"/>
<path d="M784.5,1148.4 L789.6,1149.9 L797.1,1149.9 L807.2,1153.5 L814.8,1153.5 L831.5,1147.4 L841.1,1140.3 L883.1,1124.1 L891.7,1124.1 L899.8,1121.1 L916.9,1107.9 L926.0,1098.3 L951.3,1079.0 L959.9,1076.0 L968.0,1079.0 L976.6,1079.0 L985.7,1082.6 L994.3,1082.6 L1002.9,1079.0 L1055.0,1079.0 L1063.5,1076.0 L1071.6,1076.0 L1080.2,1072.9 L1088.8,1066.3 L1096.9,1062.8 L1114.1,1062.8 L1122.2,1066.3 L1130.8,1066.3 L1148.5,1072.9 L1182.8,1072.9 L1216.7,1085.6 L1224.3,1082.6" fill="none" stroke="#FF0000" stroke-width="2.4" stroke-linejoin="round" clip-path="url(#cp784)"/>
<path d="M784.5,1127.1 L789.6,1128.2 L806.3,1157.3 L824.1,1157.3 L858.6,1164.0 L894.2,1150.7 L911.5,1154.3 L946.0,1141.0 L962.8,1144.5 L999.3,1144.5 L1014.6,1147.6 L1032.3,1157.3 L1050.1,1147.6 L1067.9,1131.2 L1085.7,1118.4 L1101.9,1115.4 L1119.7,1121.5 L1137.5,1141.0 L1154.2,1150.7 L1172.0,1134.8 L1188.2,1131.7 L1206.0,1137.9 L1224.3,1147.6" fill="none" stroke="#0000FF" stroke-width="2.4" stroke-linejoin="round" clip-path="url(#cp784)"/>
<rect x="784.5" y="966" width="439.79999999999995" height="323.29999999999995" fill="none" stroke="#000" stroke-width="2.4"/>
<path d="M777.5,1289.3H784.5 M780.0,1257.0H784.5 M777.5,1224.6H784.5 M780.0,1192.3H784.5 M777.5,1160.0H784.5 M780.0,1127.7H784.5 M777.5,1095.3H784.5 M780.0,1063.0H784.5 M777.5,1030.7H784.5 M780.0,998.3H784.5 M777.5,966.0H784.5 M830.8,1289.3V1296.3 M888.7,1289.3V1293.8 M946.5,1289.3V1296.3 M1004.4,1289.3V1293.8 M1062.3,1289.3V1296.3 M1120.1,1289.3V1293.8 M1178.0,1289.3V1296.3" stroke="#000" stroke-width="1.8" fill="none"/>
<text x="773.5" y="1294.8" font-size="17.3" text-anchor="end">100</text>
<text x="773.5" y="1230.1" font-size="17.3" text-anchor="end">120</text>
<text x="773.5" y="1165.5" font-size="17.3" text-anchor="end">140</text>
<text x="773.5" y="1100.8" font-size="17.3" text-anchor="end">160</text>
<text x="773.5" y="1036.2" font-size="17.3" text-anchor="end">180</text>
<text x="773.5" y="971.5" font-size="17.3" text-anchor="end">200</text>
<text x="830.8" y="1314.5" font-size="17.3" text-anchor="middle">1.0</text>
<text x="946.5" y="1314.5" font-size="17.3" text-anchor="middle">1.5</text>
<text x="1062.3" y="1314.5" font-size="17.3" text-anchor="middle">2.0</text>
<text x="1178.0" y="1314.5" font-size="17.3" text-anchor="middle">2.5</text>
<text x="1005" y="1343" font-size="17.3" text-anchor="middle">Channel width (mm)</text>
<text transform="translate(717.5,1133) rotate(-90)" font-size="17.3" text-anchor="middle">Green Intensity</text>
<path d="M799,983.2H838.5" stroke="#000" stroke-width="2.4"/>
<text x="843" y="988.7" font-size="17.3">Y channel</text>
<path d="M799,1005.0H838.5" stroke="#FF0000" stroke-width="2.4"/>
<text x="843" y="1010.5" font-size="17.3">Output with Dome 1</text>
<path d="M799,1026.7H838.5" stroke="#0000FF" stroke-width="2.4"/>
<text x="843" y="1032.2" font-size="17.3">Output with Dome 2</text>
<text class="b" x="696" y="948.5" font-size="26">e</text>
</svg>
</body></html>
